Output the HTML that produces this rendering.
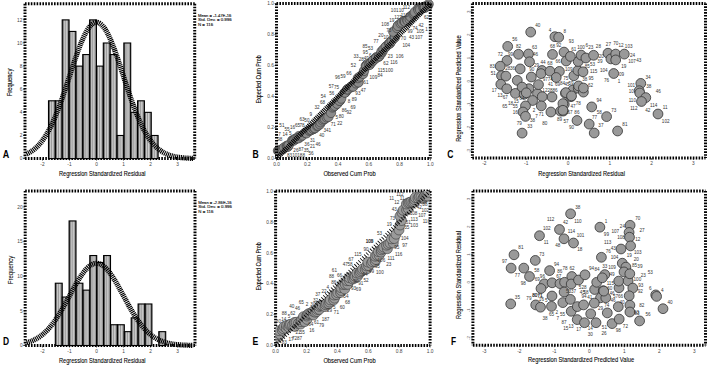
<!DOCTYPE html><html><head><meta charset="utf-8"><style>
html,body{margin:0;padding:0;background:#fff;overflow:hidden;width:708px;height:365px;}
svg{display:block;font-family:"Liberation Sans",sans-serif;}
</style></head><body>
<svg width="708" height="365" viewBox="0 0 708 365">
<defs>
<linearGradient id="barg" x1="0" x2="1" y1="0" y2="0">
<stop offset="0" stop-color="#333"/><stop offset="0.14" stop-color="#666"/>
<stop offset="0.3" stop-color="#ccc"/><stop offset="0.45" stop-color="#999"/>
<stop offset="0.6" stop-color="#d0d0d0"/><stop offset="0.74" stop-color="#aaa"/><stop offset="0.88" stop-color="#888"/><stop offset="1" stop-color="#444"/>
</linearGradient>
</defs>
<path d="M25,3.8H194.7M25,158.6H194.7M25,3.8V158.6M194.7,3.8V158.6" stroke="#000" stroke-width="3" stroke-dasharray="1.6 1.3" fill="none"/>
<rect x="48.50" y="100.80" width="6.85" height="57.80" fill="url(#barg)" stroke="#000" stroke-width="1.1"/>
<rect x="55.35" y="100.80" width="6.85" height="57.80" fill="url(#barg)" stroke="#000" stroke-width="1.1"/>
<rect x="62.20" y="19.88" width="6.85" height="138.72" fill="url(#barg)" stroke="#000" stroke-width="1.1"/>
<rect x="69.05" y="31.44" width="6.85" height="127.16" fill="url(#barg)" stroke="#000" stroke-width="1.1"/>
<rect x="75.90" y="66.12" width="6.85" height="92.48" fill="url(#barg)" stroke="#000" stroke-width="1.1"/>
<rect x="82.75" y="54.56" width="6.85" height="104.04" fill="url(#barg)" stroke="#000" stroke-width="1.1"/>
<rect x="89.60" y="19.88" width="6.85" height="138.72" fill="url(#barg)" stroke="#000" stroke-width="1.1"/>
<rect x="96.45" y="66.12" width="6.85" height="92.48" fill="url(#barg)" stroke="#000" stroke-width="1.1"/>
<rect x="103.30" y="43.00" width="6.85" height="115.60" fill="url(#barg)" stroke="#000" stroke-width="1.1"/>
<rect x="110.15" y="54.56" width="6.85" height="104.04" fill="url(#barg)" stroke="#000" stroke-width="1.1"/>
<rect x="117.00" y="135.48" width="6.85" height="23.12" fill="url(#barg)" stroke="#000" stroke-width="1.1"/>
<rect x="123.85" y="43.00" width="6.85" height="115.60" fill="url(#barg)" stroke="#000" stroke-width="1.1"/>
<rect x="130.70" y="112.36" width="6.85" height="46.24" fill="url(#barg)" stroke="#000" stroke-width="1.1"/>
<rect x="137.55" y="100.80" width="6.85" height="57.80" fill="url(#barg)" stroke="#000" stroke-width="1.1"/>
<rect x="144.40" y="112.36" width="6.85" height="46.24" fill="url(#barg)" stroke="#000" stroke-width="1.1"/>
<rect x="151.25" y="135.48" width="6.85" height="23.12" fill="url(#barg)" stroke="#000" stroke-width="1.1"/>
<polyline points="26.50,154.00 27.00,153.77 27.50,153.53 28.00,153.29 28.50,153.03 29.00,152.76 29.50,152.48 30.00,152.19 30.50,151.89 31.00,151.58 31.50,151.26 32.00,150.92 32.50,150.57 33.00,150.21 33.50,149.84 34.00,149.45 34.50,149.05 35.00,148.63 35.50,148.20 36.00,147.75 36.50,147.29 37.00,146.81 37.50,146.32 38.00,145.81 38.50,145.29 39.00,144.74 39.50,144.18 40.00,143.61 40.50,143.01 41.00,142.40 41.50,141.77 42.00,141.12 42.50,140.45 43.00,139.77 43.50,139.06 44.00,138.33 44.50,137.59 45.00,136.82 45.50,136.04 46.00,135.23 46.50,134.41 47.00,133.56 47.50,132.69 48.00,131.80 48.50,130.89 49.00,129.96 49.50,129.01 50.00,128.04 50.50,127.05 51.00,126.03 51.50,125.00 52.00,123.94 52.50,122.87 53.00,121.77 53.50,120.65 54.00,119.51 54.50,118.35 55.00,117.18 55.50,115.98 56.00,114.76 56.50,113.52 57.00,112.27 57.50,110.99 58.00,109.70 58.50,108.39 59.00,107.06 59.50,105.72 60.00,104.35 60.50,102.98 61.00,101.59 61.50,100.18 62.00,98.76 62.50,97.32 63.00,95.88 63.50,94.42 64.00,92.95 64.50,91.47 65.00,89.98 65.50,88.48 66.00,86.97 66.50,85.46 67.00,83.94 67.50,82.42 68.00,80.89 68.50,79.35 69.00,77.82 69.50,76.28 70.00,74.74 70.50,73.21 71.00,71.68 71.50,70.14 72.00,68.62 72.50,67.10 73.00,65.58 73.50,64.07 74.00,62.58 74.50,61.09 75.00,59.61 75.50,58.14 76.00,56.69 76.50,55.26 77.00,53.83 77.50,52.43 78.00,51.05 78.50,49.68 79.00,48.34 79.50,47.01 80.00,45.71 80.50,44.44 81.00,43.19 81.50,41.96 82.00,40.77 82.50,39.60 83.00,38.46 83.50,37.36 84.00,36.29 84.50,35.25 85.00,34.24 85.50,33.27 86.00,32.33 86.50,31.44 87.00,30.58 87.50,29.75 88.00,28.97 88.50,28.23 89.00,27.53 89.50,26.87 90.00,26.26 90.50,25.68 91.00,25.15 91.50,24.67 92.00,24.23 92.50,23.83 93.00,23.48 93.50,23.18 94.00,22.92 94.50,22.71 95.00,22.54 95.50,22.43 96.00,22.36 96.50,22.33 97.00,22.36 97.50,22.43 98.00,22.54 98.50,22.71 99.00,22.92 99.50,23.18 100.00,23.48 100.50,23.83 101.00,24.23 101.50,24.67 102.00,25.15 102.50,25.68 103.00,26.26 103.50,26.87 104.00,27.53 104.50,28.23 105.00,28.97 105.50,29.75 106.00,30.58 106.50,31.44 107.00,32.33 107.50,33.27 108.00,34.24 108.50,35.25 109.00,36.29 109.50,37.36 110.00,38.46 110.50,39.60 111.00,40.77 111.50,41.96 112.00,43.19 112.50,44.44 113.00,45.71 113.50,47.01 114.00,48.34 114.50,49.68 115.00,51.05 115.50,52.43 116.00,53.83 116.50,55.26 117.00,56.69 117.50,58.14 118.00,59.61 118.50,61.09 119.00,62.58 119.50,64.07 120.00,65.58 120.50,67.10 121.00,68.62 121.50,70.14 122.00,71.68 122.50,73.21 123.00,74.74 123.50,76.28 124.00,77.82 124.50,79.35 125.00,80.89 125.50,82.42 126.00,83.94 126.50,85.46 127.00,86.97 127.50,88.48 128.00,89.98 128.50,91.47 129.00,92.95 129.50,94.42 130.00,95.88 130.50,97.32 131.00,98.76 131.50,100.18 132.00,101.59 132.50,102.98 133.00,104.35 133.50,105.72 134.00,107.06 134.50,108.39 135.00,109.70 135.50,110.99 136.00,112.27 136.50,113.52 137.00,114.76 137.50,115.98 138.00,117.18 138.50,118.35 139.00,119.51 139.50,120.65 140.00,121.77 140.50,122.87 141.00,123.94 141.50,125.00 142.00,126.03 142.50,127.05 143.00,128.04 143.50,129.01 144.00,129.96 144.50,130.89 145.00,131.80 145.50,132.69 146.00,133.56 146.50,134.41 147.00,135.23 147.50,136.04 148.00,136.82 148.50,137.59 149.00,138.33 149.50,139.06 150.00,139.77 150.50,140.45 151.00,141.12 151.50,141.77 152.00,142.40 152.50,143.01 153.00,143.61 153.50,144.18 154.00,144.74 154.50,145.29 155.00,145.81 155.50,146.32 156.00,146.81 156.50,147.29 157.00,147.75 157.50,148.20 158.00,148.63 158.50,149.05 159.00,149.45 159.50,149.84 160.00,150.21 160.50,150.57 161.00,150.92 161.50,151.26 162.00,151.58 162.50,151.89 163.00,152.19 163.50,152.48 164.00,152.76 164.50,153.03 165.00,153.29 165.50,153.53 166.00,153.77 166.50,154.00 167.00,154.21 167.50,154.42 168.00,154.62 168.50,154.82 169.00,155.00 169.50,155.18 170.00,155.35 170.50,155.51 171.00,155.66 171.50,155.81 172.00,155.95 172.50,156.09 173.00,156.22 173.50,156.34 174.00,156.46 174.50,156.57 175.00,156.68 175.50,156.78 176.00,156.88 176.50,156.97 177.00,157.06 177.50,157.14 178.00,157.22 178.50,157.30 179.00,157.37 179.50,157.44 180.00,157.50 180.50,157.56 181.00,157.62 181.50,157.68 182.00,157.73 182.50,157.78 183.00,157.83 183.50,157.87 184.00,157.92 184.50,157.96 185.00,157.99 185.50,158.03 186.00,158.06 186.50,158.10 187.00,158.13 187.50,158.16 188.00,158.18 188.50,158.21 189.00,158.23 189.50,158.26 190.00,158.28 190.50,158.30 191.00,158.32 191.50,158.33 192.00,158.35 192.50,158.37 193.00,158.38" fill="none" stroke="#000" stroke-width="5.2" stroke-dasharray="1.15 0.75"/>
<path d="M42.5,158.6v2" stroke="#000" stroke-width="0.6"/>
<text x="42.5" y="165.9" font-size="4.8" text-anchor="middle" fill="#444" >-2</text>
<path d="M69.5,158.6v2" stroke="#000" stroke-width="0.6"/>
<text x="69.5" y="165.9" font-size="4.8" text-anchor="middle" fill="#444" >-1</text>
<path d="M96.5,158.6v2" stroke="#000" stroke-width="0.6"/>
<text x="96.5" y="165.9" font-size="4.8" text-anchor="middle" fill="#444" >0</text>
<path d="M123.5,158.6v2" stroke="#000" stroke-width="0.6"/>
<text x="123.5" y="165.9" font-size="4.8" text-anchor="middle" fill="#444" >1</text>
<path d="M150.5,158.6v2" stroke="#000" stroke-width="0.6"/>
<text x="150.5" y="165.9" font-size="4.8" text-anchor="middle" fill="#444" >2</text>
<path d="M177.5,158.6v2" stroke="#000" stroke-width="0.6"/>
<text x="177.5" y="165.9" font-size="4.8" text-anchor="middle" fill="#444" >3</text>
<path d="M25,158.6h-2" stroke="#000" stroke-width="0.6"/>
<text x="22.4" y="160.2" font-size="4.8" text-anchor="end" fill="#444" >0</text>
<path d="M25,135.5h-2" stroke="#000" stroke-width="0.6"/>
<text x="22.4" y="137.1" font-size="4.8" text-anchor="end" fill="#444" >2</text>
<path d="M25,112.4h-2" stroke="#000" stroke-width="0.6"/>
<text x="22.4" y="114.0" font-size="4.8" text-anchor="end" fill="#444" >4</text>
<path d="M25,89.2h-2" stroke="#000" stroke-width="0.6"/>
<text x="22.4" y="90.8" font-size="4.8" text-anchor="end" fill="#444" >6</text>
<path d="M25,66.1h-2" stroke="#000" stroke-width="0.6"/>
<text x="22.4" y="67.7" font-size="4.8" text-anchor="end" fill="#444" >8</text>
<path d="M25,43.0h-2" stroke="#000" stroke-width="0.6"/>
<text x="22.4" y="44.6" font-size="4.8" text-anchor="end" fill="#444" >10</text>
<path d="M25,19.9h-2" stroke="#000" stroke-width="0.6"/>
<text x="22.4" y="21.5" font-size="4.8" text-anchor="end" fill="#444" >12</text>
<text x="198.0" y="16.70" font-size="4.3" fill="#111" stroke="#111" stroke-width="0.12" textLength="33.4" lengthAdjust="spacingAndGlyphs">Mean = -1.47E-16</text>
<text x="198.0" y="21.25" font-size="4.3" fill="#111" stroke="#111" stroke-width="0.12" textLength="33.7" lengthAdjust="spacingAndGlyphs">Std. Dev. = 0.996</text>
<text x="198.0" y="25.80" font-size="4.3" fill="#111" stroke="#111" stroke-width="0.12" textLength="15.1" lengthAdjust="spacingAndGlyphs">N = 116</text>
<text x="59.0" y="176" font-size="6.3" textLength="86.6" lengthAdjust="spacingAndGlyphs" fill="#000" stroke="#000" stroke-width="0.08">Regression Standardized Residual</text>
<text transform="translate(12.3,82.4) rotate(-90)" x="-13.8" y="0" font-size="6.3" textLength="27.5" lengthAdjust="spacingAndGlyphs" fill="#000" stroke="#000" stroke-width="0.08">Frequency</text>
<text x="2.7" y="158.2" font-size="10.6" font-weight="bold" fill="#000" textLength="6.5" lengthAdjust="spacingAndGlyphs">A</text>
<path d="M25.2,191H195M25.2,345.5H195M25.2,191V345.5M195,191V345.5" stroke="#000" stroke-width="3" stroke-dasharray="1.6 1.3" fill="none"/>
<rect x="55.30" y="283.22" width="6.90" height="62.28" fill="url(#barg)" stroke="#000" stroke-width="1.1"/>
<rect x="62.20" y="297.06" width="6.90" height="48.44" fill="url(#barg)" stroke="#000" stroke-width="1.1"/>
<rect x="69.10" y="220.94" width="6.90" height="124.56" fill="url(#barg)" stroke="#000" stroke-width="1.1"/>
<rect x="76.00" y="283.22" width="6.90" height="62.28" fill="url(#barg)" stroke="#000" stroke-width="1.1"/>
<rect x="82.90" y="290.14" width="6.90" height="55.36" fill="url(#barg)" stroke="#000" stroke-width="1.1"/>
<rect x="89.80" y="255.54" width="6.90" height="89.96" fill="url(#barg)" stroke="#000" stroke-width="1.1"/>
<rect x="96.70" y="262.46" width="6.90" height="83.04" fill="url(#barg)" stroke="#000" stroke-width="1.1"/>
<rect x="103.60" y="255.54" width="6.90" height="89.96" fill="url(#barg)" stroke="#000" stroke-width="1.1"/>
<rect x="110.50" y="324.74" width="6.90" height="20.76" fill="url(#barg)" stroke="#000" stroke-width="1.1"/>
<rect x="117.40" y="324.74" width="6.90" height="20.76" fill="url(#barg)" stroke="#000" stroke-width="1.1"/>
<rect x="124.30" y="331.66" width="6.90" height="13.84" fill="url(#barg)" stroke="#000" stroke-width="1.1"/>
<rect x="131.20" y="317.82" width="6.90" height="27.68" fill="url(#barg)" stroke="#000" stroke-width="1.1"/>
<rect x="138.10" y="303.98" width="6.90" height="41.52" fill="url(#barg)" stroke="#000" stroke-width="1.1"/>
<rect x="145.00" y="303.98" width="6.90" height="41.52" fill="url(#barg)" stroke="#000" stroke-width="1.1"/>
<rect x="158.80" y="331.66" width="6.90" height="13.84" fill="url(#barg)" stroke="#000" stroke-width="1.1"/>
<polyline points="26.70,342.67 27.20,342.53 27.70,342.39 28.20,342.23 28.70,342.08 29.20,341.91 29.70,341.74 30.20,341.57 30.70,341.38 31.20,341.19 31.70,340.99 32.20,340.79 32.70,340.57 33.20,340.35 33.70,340.12 34.20,339.89 34.70,339.64 35.20,339.39 35.70,339.12 36.20,338.85 36.70,338.57 37.20,338.28 37.70,337.97 38.20,337.66 38.70,337.34 39.20,337.01 39.70,336.67 40.20,336.32 40.70,335.96 41.20,335.58 41.70,335.20 42.20,334.80 42.70,334.39 43.20,333.97 43.70,333.54 44.20,333.10 44.70,332.65 45.20,332.18 45.70,331.70 46.20,331.21 46.70,330.71 47.20,330.19 47.70,329.66 48.20,329.12 48.70,328.57 49.20,328.00 49.70,327.43 50.20,326.84 50.70,326.23 51.20,325.62 51.70,324.99 52.20,324.34 52.70,323.69 53.20,323.02 53.70,322.34 54.20,321.65 54.70,320.95 55.20,320.23 55.70,319.51 56.20,318.77 56.70,318.02 57.20,317.26 57.70,316.48 58.20,315.70 58.70,314.90 59.20,314.10 59.70,313.28 60.20,312.46 60.70,311.63 61.20,310.78 61.70,309.93 62.20,309.07 62.70,308.20 63.20,307.33 63.70,306.45 64.20,305.56 64.70,304.66 65.20,303.76 65.70,302.86 66.20,301.95 66.70,301.03 67.20,300.11 67.70,299.19 68.20,298.27 68.70,297.34 69.20,296.42 69.70,295.49 70.20,294.57 70.70,293.64 71.20,292.72 71.70,291.79 72.20,290.87 72.70,289.96 73.20,289.05 73.70,288.14 74.20,287.24 74.70,286.34 75.20,285.46 75.70,284.58 76.20,283.70 76.70,282.84 77.20,281.99 77.70,281.15 78.20,280.32 78.70,279.50 79.20,278.69 79.70,277.90 80.20,277.12 80.70,276.36 81.20,275.61 81.70,274.88 82.20,274.17 82.70,273.47 83.20,272.79 83.70,272.13 84.20,271.49 84.70,270.87 85.20,270.28 85.70,269.70 86.20,269.14 86.70,268.61 87.20,268.10 87.70,267.62 88.20,267.15 88.70,266.72 89.20,266.30 89.70,265.92 90.20,265.56 90.70,265.22 91.20,264.91 91.70,264.63 92.20,264.38 92.70,264.15 93.20,263.95 93.70,263.78 94.20,263.63 94.70,263.52 95.20,263.43 95.70,263.37 96.20,263.34 96.70,263.33 97.20,263.36 97.70,263.41 98.20,263.50 98.70,263.61 99.20,263.75 99.70,263.91 100.20,264.11 100.70,264.33 101.20,264.58 101.70,264.85 102.20,265.16 102.70,265.49 103.20,265.84 103.70,266.23 104.20,266.63 104.70,267.06 105.20,267.52 105.70,268.00 106.20,268.51 106.70,269.04 107.20,269.59 107.70,270.16 108.20,270.75 108.70,271.37 109.20,272.00 109.70,272.66 110.20,273.33 110.70,274.02 111.20,274.74 111.70,275.46 112.20,276.21 112.70,276.97 113.20,277.74 113.70,278.53 114.20,279.33 114.70,280.15 115.20,280.98 115.70,281.82 116.20,282.67 116.70,283.53 117.20,284.40 117.70,285.28 118.20,286.17 118.70,287.06 119.20,287.96 119.70,288.87 120.20,289.78 120.70,290.69 121.20,291.61 121.70,292.53 122.20,293.46 122.70,294.38 123.20,295.31 123.70,296.23 124.20,297.16 124.70,298.09 125.20,299.01 125.70,299.93 126.20,300.85 126.70,301.76 127.20,302.67 127.70,303.58 128.20,304.48 128.70,305.38 129.20,306.27 129.70,307.15 130.20,308.03 130.70,308.90 131.20,309.76 131.70,310.61 132.20,311.46 132.70,312.29 133.20,313.12 133.70,313.94 134.20,314.74 134.70,315.54 135.20,316.33 135.70,317.10 136.20,317.87 136.70,318.62 137.20,319.36 137.70,320.09 138.20,320.81 138.70,321.51 139.20,322.21 139.70,322.89 140.20,323.56 140.70,324.21 141.20,324.86 141.70,325.49 142.20,326.11 142.70,326.72 143.20,327.31 143.70,327.89 144.20,328.46 144.70,329.01 145.20,329.56 145.70,330.09 146.20,330.61 146.70,331.11 147.20,331.60 147.70,332.09 148.20,332.55 148.70,333.01 149.20,333.46 149.70,333.89 150.20,334.31 150.70,334.72 151.20,335.12 151.70,335.51 152.20,335.88 152.70,336.25 153.20,336.60 153.70,336.94 154.20,337.28 154.70,337.60 155.20,337.91 155.70,338.22 156.20,338.51 156.70,338.79 157.20,339.07 157.70,339.33 158.20,339.59 158.70,339.84 159.20,340.08 159.70,340.31 160.20,340.53 160.70,340.75 161.20,340.95 161.70,341.15 162.20,341.34 162.70,341.53 163.20,341.71 163.70,341.88 164.20,342.04 164.70,342.20 165.20,342.36 165.70,342.50 166.20,342.64 166.70,342.78 167.20,342.91 167.70,343.03 168.20,343.15 168.70,343.26 169.20,343.37 169.70,343.48 170.20,343.58 170.70,343.67 171.20,343.77 171.70,343.85 172.20,343.94 172.70,344.02 173.20,344.09 173.70,344.17 174.20,344.24 174.70,344.30 175.20,344.37 175.70,344.43 176.20,344.48 176.70,344.54 177.20,344.59 177.70,344.64 178.20,344.69 178.70,344.73 179.20,344.77 179.70,344.81 180.20,344.85 180.70,344.89 181.20,344.92 181.70,344.96 182.20,344.99 182.70,345.02 183.20,345.05 183.70,345.07 184.20,345.10 184.70,345.12 185.20,345.14 185.70,345.16 186.20,345.18 186.70,345.20 187.20,345.22 187.70,345.24 188.20,345.25 188.70,345.27 189.20,345.28 189.70,345.30 190.20,345.31 190.70,345.32 191.20,345.33 191.70,345.34 192.20,345.35 192.70,345.36 193.20,345.37" fill="none" stroke="#000" stroke-width="5.2" stroke-dasharray="1.15 0.75"/>
<path d="M42.5,345.5v2" stroke="#000" stroke-width="0.6"/>
<text x="42.5" y="352.8" font-size="4.8" text-anchor="middle" fill="#444" >-2</text>
<path d="M69.5,345.5v2" stroke="#000" stroke-width="0.6"/>
<text x="69.5" y="352.8" font-size="4.8" text-anchor="middle" fill="#444" >-1</text>
<path d="M96.5,345.5v2" stroke="#000" stroke-width="0.6"/>
<text x="96.5" y="352.8" font-size="4.8" text-anchor="middle" fill="#444" >0</text>
<path d="M123.5,345.5v2" stroke="#000" stroke-width="0.6"/>
<text x="123.5" y="352.8" font-size="4.8" text-anchor="middle" fill="#444" >1</text>
<path d="M150.5,345.5v2" stroke="#000" stroke-width="0.6"/>
<text x="150.5" y="352.8" font-size="4.8" text-anchor="middle" fill="#444" >2</text>
<path d="M177.5,345.5v2" stroke="#000" stroke-width="0.6"/>
<text x="177.5" y="352.8" font-size="4.8" text-anchor="middle" fill="#444" >3</text>
<path d="M25.2,345.5h-2" stroke="#000" stroke-width="0.6"/>
<text x="22.6" y="347.1" font-size="4.8" text-anchor="end" fill="#444" >0</text>
<path d="M25.2,310.9h-2" stroke="#000" stroke-width="0.6"/>
<text x="22.6" y="312.5" font-size="4.8" text-anchor="end" fill="#444" >5</text>
<path d="M25.2,276.3h-2" stroke="#000" stroke-width="0.6"/>
<text x="22.6" y="277.9" font-size="4.8" text-anchor="end" fill="#444" >10</text>
<path d="M25.2,241.7h-2" stroke="#000" stroke-width="0.6"/>
<text x="22.6" y="243.3" font-size="4.8" text-anchor="end" fill="#444" >15</text>
<path d="M25.2,207.1h-2" stroke="#000" stroke-width="0.6"/>
<text x="22.6" y="208.7" font-size="4.8" text-anchor="end" fill="#444" >20</text>
<text x="198.3" y="203.90" font-size="4.3" fill="#111" stroke="#111" stroke-width="0.12" textLength="33.4" lengthAdjust="spacingAndGlyphs">Mean = -2.86E-16</text>
<text x="198.3" y="208.45" font-size="4.3" fill="#111" stroke="#111" stroke-width="0.12" textLength="33.7" lengthAdjust="spacingAndGlyphs">Std. Dev. = 0.996</text>
<text x="198.3" y="213.00" font-size="4.3" fill="#111" stroke="#111" stroke-width="0.12" textLength="15.1" lengthAdjust="spacingAndGlyphs">N = 116</text>
<text x="59.0" y="363" font-size="6.3" textLength="86.6" lengthAdjust="spacingAndGlyphs" fill="#000" stroke="#000" stroke-width="0.08">Regression Standardized Residual</text>
<text transform="translate(12.8,270) rotate(-90)" x="-14.2" y="0" font-size="6.3" textLength="28.5" lengthAdjust="spacingAndGlyphs" fill="#000" stroke="#000" stroke-width="0.08">Frequency</text>
<text x="3.0" y="345.2" font-size="10.6" font-weight="bold" fill="#000" textLength="6.1" lengthAdjust="spacingAndGlyphs">D</text>
<circle cx="278.0" cy="150.7" r="4.7" fill="#8a8a8a" stroke="#444" stroke-width="0.7"/>
<circle cx="278.9" cy="150.5" r="4.7" fill="#8a8a8a" stroke="#444" stroke-width="0.7"/>
<circle cx="279.1" cy="151.0" r="4.7" fill="#8a8a8a" stroke="#444" stroke-width="0.7"/>
<circle cx="281.9" cy="149.3" r="4.7" fill="#8a8a8a" stroke="#444" stroke-width="0.7"/>
<circle cx="283.0" cy="149.2" r="4.7" fill="#8a8a8a" stroke="#444" stroke-width="0.7"/>
<circle cx="284.1" cy="147.5" r="4.7" fill="#8a8a8a" stroke="#444" stroke-width="0.7"/>
<circle cx="286.7" cy="145.8" r="4.7" fill="#8a8a8a" stroke="#444" stroke-width="0.7"/>
<circle cx="287.0" cy="146.7" r="4.7" fill="#8a8a8a" stroke="#444" stroke-width="0.7"/>
<circle cx="287.9" cy="146.7" r="4.7" fill="#8a8a8a" stroke="#444" stroke-width="0.7"/>
<circle cx="288.7" cy="145.2" r="4.7" fill="#8a8a8a" stroke="#444" stroke-width="0.7"/>
<circle cx="292.2" cy="140.5" r="4.7" fill="#8a8a8a" stroke="#444" stroke-width="0.7"/>
<circle cx="292.9" cy="140.5" r="4.7" fill="#8a8a8a" stroke="#444" stroke-width="0.7"/>
<circle cx="294.8" cy="139.1" r="4.7" fill="#8a8a8a" stroke="#444" stroke-width="0.7"/>
<circle cx="293.9" cy="140.5" r="4.7" fill="#8a8a8a" stroke="#444" stroke-width="0.7"/>
<circle cx="295.6" cy="138.9" r="4.7" fill="#8a8a8a" stroke="#444" stroke-width="0.7"/>
<circle cx="298.9" cy="136.1" r="4.7" fill="#8a8a8a" stroke="#444" stroke-width="0.7"/>
<circle cx="297.4" cy="138.3" r="4.7" fill="#8a8a8a" stroke="#444" stroke-width="0.7"/>
<circle cx="298.7" cy="138.2" r="4.7" fill="#8a8a8a" stroke="#444" stroke-width="0.7"/>
<circle cx="301.0" cy="136.5" r="4.7" fill="#8a8a8a" stroke="#444" stroke-width="0.7"/>
<circle cx="302.4" cy="135.5" r="4.7" fill="#8a8a8a" stroke="#444" stroke-width="0.7"/>
<circle cx="305.2" cy="132.8" r="4.7" fill="#8a8a8a" stroke="#444" stroke-width="0.7"/>
<circle cx="306.9" cy="132.4" r="4.7" fill="#8a8a8a" stroke="#444" stroke-width="0.7"/>
<circle cx="306.6" cy="133.3" r="4.7" fill="#8a8a8a" stroke="#444" stroke-width="0.7"/>
<circle cx="309.4" cy="130.8" r="4.7" fill="#8a8a8a" stroke="#444" stroke-width="0.7"/>
<circle cx="310.3" cy="130.2" r="4.7" fill="#8a8a8a" stroke="#444" stroke-width="0.7"/>
<circle cx="311.5" cy="130.0" r="4.7" fill="#8a8a8a" stroke="#444" stroke-width="0.7"/>
<circle cx="313.4" cy="128.8" r="4.7" fill="#8a8a8a" stroke="#444" stroke-width="0.7"/>
<circle cx="313.4" cy="128.9" r="4.7" fill="#8a8a8a" stroke="#444" stroke-width="0.7"/>
<circle cx="314.8" cy="128.2" r="4.7" fill="#8a8a8a" stroke="#444" stroke-width="0.7"/>
<circle cx="314.9" cy="128.1" r="4.7" fill="#8a8a8a" stroke="#444" stroke-width="0.7"/>
<circle cx="317.2" cy="126.2" r="4.7" fill="#8a8a8a" stroke="#444" stroke-width="0.7"/>
<circle cx="318.1" cy="125.7" r="4.7" fill="#8a8a8a" stroke="#444" stroke-width="0.7"/>
<circle cx="319.9" cy="124.3" r="4.7" fill="#8a8a8a" stroke="#444" stroke-width="0.7"/>
<circle cx="320.7" cy="122.3" r="4.7" fill="#8a8a8a" stroke="#444" stroke-width="0.7"/>
<circle cx="322.6" cy="120.5" r="4.7" fill="#8a8a8a" stroke="#444" stroke-width="0.7"/>
<circle cx="324.5" cy="118.5" r="4.7" fill="#8a8a8a" stroke="#444" stroke-width="0.7"/>
<circle cx="323.6" cy="119.2" r="4.7" fill="#8a8a8a" stroke="#444" stroke-width="0.7"/>
<circle cx="324.9" cy="118.9" r="4.7" fill="#8a8a8a" stroke="#444" stroke-width="0.7"/>
<circle cx="326.7" cy="117.5" r="4.7" fill="#8a8a8a" stroke="#444" stroke-width="0.7"/>
<circle cx="328.4" cy="116.9" r="4.7" fill="#8a8a8a" stroke="#444" stroke-width="0.7"/>
<circle cx="331.0" cy="112.9" r="4.7" fill="#8a8a8a" stroke="#444" stroke-width="0.7"/>
<circle cx="332.5" cy="107.5" r="4.7" fill="#8a8a8a" stroke="#444" stroke-width="0.7"/>
<circle cx="333.7" cy="106.6" r="4.7" fill="#8a8a8a" stroke="#444" stroke-width="0.7"/>
<circle cx="335.7" cy="104.8" r="4.7" fill="#8a8a8a" stroke="#444" stroke-width="0.7"/>
<circle cx="334.8" cy="105.8" r="4.7" fill="#8a8a8a" stroke="#444" stroke-width="0.7"/>
<circle cx="337.3" cy="103.1" r="4.7" fill="#8a8a8a" stroke="#444" stroke-width="0.7"/>
<circle cx="337.2" cy="103.8" r="4.7" fill="#8a8a8a" stroke="#444" stroke-width="0.7"/>
<circle cx="339.9" cy="100.7" r="4.7" fill="#8a8a8a" stroke="#444" stroke-width="0.7"/>
<circle cx="339.5" cy="100.8" r="4.7" fill="#8a8a8a" stroke="#444" stroke-width="0.7"/>
<circle cx="341.2" cy="98.6" r="4.7" fill="#8a8a8a" stroke="#444" stroke-width="0.7"/>
<circle cx="345.1" cy="92.4" r="4.7" fill="#8a8a8a" stroke="#444" stroke-width="0.7"/>
<circle cx="345.7" cy="92.0" r="4.7" fill="#8a8a8a" stroke="#444" stroke-width="0.7"/>
<circle cx="344.9" cy="92.6" r="4.7" fill="#8a8a8a" stroke="#444" stroke-width="0.7"/>
<circle cx="347.6" cy="89.5" r="4.7" fill="#8a8a8a" stroke="#444" stroke-width="0.7"/>
<circle cx="347.3" cy="89.3" r="4.7" fill="#8a8a8a" stroke="#444" stroke-width="0.7"/>
<circle cx="350.4" cy="87.5" r="4.7" fill="#8a8a8a" stroke="#444" stroke-width="0.7"/>
<circle cx="352.7" cy="85.9" r="4.7" fill="#8a8a8a" stroke="#444" stroke-width="0.7"/>
<circle cx="352.3" cy="86.6" r="4.7" fill="#8a8a8a" stroke="#444" stroke-width="0.7"/>
<circle cx="353.2" cy="86.6" r="4.7" fill="#8a8a8a" stroke="#444" stroke-width="0.7"/>
<circle cx="356.1" cy="83.4" r="4.7" fill="#8a8a8a" stroke="#444" stroke-width="0.7"/>
<circle cx="358.0" cy="82.2" r="4.7" fill="#8a8a8a" stroke="#444" stroke-width="0.7"/>
<circle cx="358.5" cy="82.4" r="4.7" fill="#8a8a8a" stroke="#444" stroke-width="0.7"/>
<circle cx="357.9" cy="78.1" r="4.7" fill="#8a8a8a" stroke="#444" stroke-width="0.7"/>
<circle cx="359.8" cy="76.6" r="4.7" fill="#8a8a8a" stroke="#444" stroke-width="0.7"/>
<circle cx="363.1" cy="73.9" r="4.7" fill="#8a8a8a" stroke="#444" stroke-width="0.7"/>
<circle cx="364.0" cy="70.9" r="4.7" fill="#8a8a8a" stroke="#444" stroke-width="0.7"/>
<circle cx="365.8" cy="65.8" r="4.7" fill="#8a8a8a" stroke="#444" stroke-width="0.7"/>
<circle cx="367.2" cy="64.3" r="4.7" fill="#8a8a8a" stroke="#444" stroke-width="0.7"/>
<circle cx="366.3" cy="66.2" r="4.7" fill="#8a8a8a" stroke="#444" stroke-width="0.7"/>
<circle cx="369.5" cy="64.3" r="4.7" fill="#8a8a8a" stroke="#444" stroke-width="0.7"/>
<circle cx="369.6" cy="64.9" r="4.7" fill="#8a8a8a" stroke="#444" stroke-width="0.7"/>
<circle cx="371.3" cy="62.7" r="4.7" fill="#8a8a8a" stroke="#444" stroke-width="0.7"/>
<circle cx="373.4" cy="60.2" r="4.7" fill="#8a8a8a" stroke="#444" stroke-width="0.7"/>
<circle cx="373.1" cy="60.5" r="4.7" fill="#8a8a8a" stroke="#444" stroke-width="0.7"/>
<circle cx="376.2" cy="57.3" r="4.7" fill="#8a8a8a" stroke="#444" stroke-width="0.7"/>
<circle cx="376.0" cy="58.3" r="4.7" fill="#8a8a8a" stroke="#444" stroke-width="0.7"/>
<circle cx="378.9" cy="56.7" r="4.7" fill="#8a8a8a" stroke="#444" stroke-width="0.7"/>
<circle cx="379.3" cy="55.9" r="4.7" fill="#8a8a8a" stroke="#444" stroke-width="0.7"/>
<circle cx="381.2" cy="53.6" r="4.7" fill="#8a8a8a" stroke="#444" stroke-width="0.7"/>
<circle cx="382.4" cy="51.6" r="4.7" fill="#8a8a8a" stroke="#444" stroke-width="0.7"/>
<circle cx="381.5" cy="51.5" r="4.7" fill="#8a8a8a" stroke="#444" stroke-width="0.7"/>
<circle cx="383.4" cy="49.4" r="4.7" fill="#8a8a8a" stroke="#444" stroke-width="0.7"/>
<circle cx="386.2" cy="46.3" r="4.7" fill="#8a8a8a" stroke="#444" stroke-width="0.7"/>
<circle cx="385.7" cy="46.9" r="4.7" fill="#8a8a8a" stroke="#444" stroke-width="0.7"/>
<circle cx="389.1" cy="43.6" r="4.7" fill="#8a8a8a" stroke="#444" stroke-width="0.7"/>
<circle cx="389.9" cy="43.5" r="4.7" fill="#8a8a8a" stroke="#444" stroke-width="0.7"/>
<circle cx="389.8" cy="43.2" r="4.7" fill="#8a8a8a" stroke="#444" stroke-width="0.7"/>
<circle cx="391.7" cy="40.9" r="4.7" fill="#8a8a8a" stroke="#444" stroke-width="0.7"/>
<circle cx="394.7" cy="37.7" r="4.7" fill="#8a8a8a" stroke="#444" stroke-width="0.7"/>
<circle cx="393.3" cy="31.7" r="4.7" fill="#8a8a8a" stroke="#444" stroke-width="0.7"/>
<circle cx="397.0" cy="28.0" r="4.7" fill="#8a8a8a" stroke="#444" stroke-width="0.7"/>
<circle cx="398.2" cy="25.5" r="4.7" fill="#8a8a8a" stroke="#444" stroke-width="0.7"/>
<circle cx="397.9" cy="25.9" r="4.7" fill="#8a8a8a" stroke="#444" stroke-width="0.7"/>
<circle cx="400.6" cy="23.4" r="4.7" fill="#8a8a8a" stroke="#444" stroke-width="0.7"/>
<circle cx="402.0" cy="22.5" r="4.7" fill="#8a8a8a" stroke="#444" stroke-width="0.7"/>
<circle cx="404.0" cy="21.0" r="4.7" fill="#8a8a8a" stroke="#444" stroke-width="0.7"/>
<circle cx="405.3" cy="21.0" r="4.7" fill="#8a8a8a" stroke="#444" stroke-width="0.7"/>
<circle cx="405.1" cy="21.8" r="4.7" fill="#8a8a8a" stroke="#444" stroke-width="0.7"/>
<circle cx="407.4" cy="20.1" r="4.7" fill="#8a8a8a" stroke="#444" stroke-width="0.7"/>
<circle cx="407.6" cy="20.6" r="4.7" fill="#8a8a8a" stroke="#444" stroke-width="0.7"/>
<circle cx="409.7" cy="19.3" r="4.7" fill="#8a8a8a" stroke="#444" stroke-width="0.7"/>
<circle cx="410.7" cy="16.3" r="4.7" fill="#8a8a8a" stroke="#444" stroke-width="0.7"/>
<circle cx="410.5" cy="16.8" r="4.7" fill="#8a8a8a" stroke="#444" stroke-width="0.7"/>
<circle cx="413.3" cy="14.4" r="4.7" fill="#8a8a8a" stroke="#444" stroke-width="0.7"/>
<circle cx="414.3" cy="13.7" r="4.7" fill="#8a8a8a" stroke="#444" stroke-width="0.7"/>
<circle cx="414.7" cy="12.1" r="4.7" fill="#8a8a8a" stroke="#444" stroke-width="0.7"/>
<circle cx="418.1" cy="8.6" r="4.7" fill="#8a8a8a" stroke="#444" stroke-width="0.7"/>
<circle cx="419.5" cy="8.3" r="4.7" fill="#8a8a8a" stroke="#444" stroke-width="0.7"/>
<circle cx="418.5" cy="10.3" r="4.7" fill="#8a8a8a" stroke="#444" stroke-width="0.7"/>
<circle cx="420.1" cy="9.8" r="4.7" fill="#8a8a8a" stroke="#444" stroke-width="0.7"/>
<circle cx="423.2" cy="7.3" r="4.7" fill="#8a8a8a" stroke="#444" stroke-width="0.7"/>
<circle cx="424.7" cy="6.6" r="4.7" fill="#8a8a8a" stroke="#444" stroke-width="0.7"/>
<circle cx="424.3" cy="7.5" r="4.7" fill="#8a8a8a" stroke="#444" stroke-width="0.7"/>
<circle cx="425.0" cy="7.7" r="4.7" fill="#8a8a8a" stroke="#444" stroke-width="0.7"/>
<circle cx="428.6" cy="4.2" r="4.7" fill="#8a8a8a" stroke="#444" stroke-width="0.7"/>
<circle cx="427.6" cy="6.2" r="4.7" fill="#8a8a8a" stroke="#444" stroke-width="0.7"/>
<text x="310.7" y="115.7" font-size="4.6" text-anchor="middle" fill="#333">9</text>
<text x="302.1" y="121.2" font-size="4.6" text-anchor="middle" fill="#333">63</text>
<text x="306.9" y="121.5" font-size="4.6" text-anchor="middle" fill="#333">50</text>
<text x="281.9" y="126.7" font-size="4.6" text-anchor="middle" fill="#333">51</text>
<text x="287.0" y="130.8" font-size="4.6" text-anchor="middle" fill="#333">55</text>
<text x="292.5" y="128.7" font-size="4.6" text-anchor="middle" fill="#333">16</text>
<text x="297.6" y="126.9" font-size="4.6" text-anchor="middle" fill="#333">65</text>
<text x="302.1" y="126.9" font-size="4.6" text-anchor="middle" fill="#333">78</text>
<text x="279.5" y="136.0" font-size="4.6" text-anchor="middle" fill="#333">7</text>
<text x="285.0" y="136.3" font-size="4.6" text-anchor="middle" fill="#333">14</text>
<text x="290.4" y="134.6" font-size="4.6" text-anchor="middle" fill="#333">5</text>
<text x="279.8" y="141.1" font-size="4.6" text-anchor="middle" fill="#333">98</text>
<text x="327.3" y="131.9" font-size="4.6" text-anchor="middle" fill="#333">341</text>
<text x="321.7" y="137.4" font-size="4.6" text-anchor="middle" fill="#333">40</text>
<text x="312.6" y="141.7" font-size="4.6" text-anchor="middle" fill="#333">31</text>
<text x="306.9" y="145.6" font-size="4.6" text-anchor="middle" fill="#333">36</text>
<text x="312.6" y="147.9" font-size="4.6" text-anchor="middle" fill="#333">21</text>
<text x="318.1" y="145.6" font-size="4.6" text-anchor="middle" fill="#333">46</text>
<text x="295.9" y="151.6" font-size="4.6" text-anchor="middle" fill="#333">26</text>
<text x="301.1" y="150.6" font-size="4.6" text-anchor="middle" fill="#333">87</text>
<text x="306.2" y="151.6" font-size="4.6" text-anchor="middle" fill="#333">35</text>
<text x="311.0" y="155.2" font-size="4.6" text-anchor="middle" fill="#333">56</text>
<text x="296.0" y="156.5" font-size="4.6" text-anchor="middle" fill="#333">8310188</text>
<text x="322.5" y="103.7" font-size="4.6" text-anchor="middle" fill="#333">68</text>
<text x="317.0" y="108.7" font-size="4.6" text-anchor="middle" fill="#333">32</text>
<text x="344.3" y="112.1" font-size="4.6" text-anchor="middle" fill="#333">86</text>
<text x="349.0" y="114.3" font-size="4.6" text-anchor="middle" fill="#333">92</text>
<text x="336.8" y="119.4" font-size="4.6" text-anchor="middle" fill="#333">5</text>
<text x="341.3" y="118.0" font-size="4.6" text-anchor="middle" fill="#333">80</text>
<text x="333.3" y="125.7" font-size="4.6" text-anchor="middle" fill="#333">71</text>
<text x="339.8" y="124.8" font-size="4.6" text-anchor="middle" fill="#333">22</text>
<text x="365.4" y="54.4" font-size="4.6" text-anchor="middle" fill="#333">95</text>
<text x="370.4" y="56.9" font-size="4.6" text-anchor="middle" fill="#333">6</text>
<text x="356.0" y="58.3" font-size="4.6" text-anchor="middle" fill="#333">33</text>
<text x="361.3" y="60.6" font-size="4.6" text-anchor="middle" fill="#333">28</text>
<text x="366.3" y="60.2" font-size="4.6" text-anchor="middle" fill="#333">49</text>
<text x="353.4" y="67.1" font-size="4.6" text-anchor="middle" fill="#333">52</text>
<text x="348.9" y="74.6" font-size="4.6" text-anchor="middle" fill="#333">66</text>
<text x="337.5" y="79.3" font-size="4.6" text-anchor="middle" fill="#333">96</text>
<text x="343.0" y="77.6" font-size="4.6" text-anchor="middle" fill="#333">59</text>
<text x="373.4" y="79.0" font-size="4.6" text-anchor="middle" fill="#333">109</text>
<text x="380.0" y="77.2" font-size="4.6" text-anchor="middle" fill="#333">84</text>
<text x="331.2" y="88.1" font-size="4.6" text-anchor="middle" fill="#333">57</text>
<text x="336.5" y="88.7" font-size="4.6" text-anchor="middle" fill="#333">75</text>
<text x="365.9" y="84.0" font-size="4.6" text-anchor="middle" fill="#333">61</text>
<text x="363.3" y="91.7" font-size="4.6" text-anchor="middle" fill="#333">47</text>
<text x="323.2" y="97.6" font-size="4.6" text-anchor="middle" fill="#333">54</text>
<text x="331.7" y="95.3" font-size="4.6" text-anchor="middle" fill="#333">56</text>
<text x="357.9" y="95.3" font-size="4.6" text-anchor="middle" fill="#333">93</text>
<text x="349.0" y="103.3" font-size="4.6" text-anchor="middle" fill="#333">8</text>
<text x="354.3" y="101.1" font-size="4.6" text-anchor="middle" fill="#333">89</text>
<text x="353.1" y="108.6" font-size="4.6" text-anchor="middle" fill="#333">69</text>
<text x="394.7" y="12.1" font-size="4.6" text-anchor="middle" fill="#333">101</text>
<text x="401.2" y="11.5" font-size="4.6" text-anchor="middle" fill="#333">10</text>
<text x="406.3" y="9.3" font-size="4.6" text-anchor="middle" fill="#333">112</text>
<text x="391.8" y="21.8" font-size="4.6" text-anchor="middle" fill="#333">19</text>
<text x="398.0" y="19.1" font-size="4.6" text-anchor="middle" fill="#333">127</text>
<text x="404.5" y="16.9" font-size="4.6" text-anchor="middle" fill="#333">110</text>
<text x="385.2" y="25.7" font-size="4.6" text-anchor="middle" fill="#333">108</text>
<text x="388.7" y="32.3" font-size="4.6" text-anchor="middle" fill="#333">73</text>
<text x="380.9" y="37.1" font-size="4.6" text-anchor="middle" fill="#333">20</text>
<text x="387.4" y="39.3" font-size="4.6" text-anchor="middle" fill="#333">101</text>
<text x="376.0" y="43.2" font-size="4.6" text-anchor="middle" fill="#333">77</text>
<text x="403.4" y="40.0" font-size="4.6" text-anchor="middle" fill="#333">70</text>
<text x="411.5" y="39.3" font-size="4.6" text-anchor="middle" fill="#333">43</text>
<text x="418.8" y="39.3" font-size="4.6" text-anchor="middle" fill="#333">107</text>
<text x="410.0" y="33.4" font-size="4.6" text-anchor="middle" fill="#333">99</text>
<text x="420.3" y="33.4" font-size="4.6" text-anchor="middle" fill="#333">105</text>
<text x="426.5" y="30.5" font-size="4.6" text-anchor="middle" fill="#333">1</text>
<text x="415.0" y="29.7" font-size="4.6" text-anchor="middle" fill="#333">74</text>
<text x="421.0" y="26.8" font-size="4.6" text-anchor="middle" fill="#333">42</text>
<text x="426.5" y="19.1" font-size="4.6" text-anchor="middle" fill="#333">62</text>
<text x="406.3" y="46.5" font-size="4.6" text-anchor="middle" fill="#333">104</text>
<text x="365.1" y="48.3" font-size="4.6" text-anchor="middle" fill="#333">85</text>
<text x="370.6" y="50.3" font-size="4.6" text-anchor="middle" fill="#333">53</text>
<text x="390.3" y="57.5" font-size="4.6" text-anchor="middle" fill="#333">23</text>
<text x="399.7" y="58.2" font-size="4.6" text-anchor="middle" fill="#333">106</text>
<text x="385.9" y="65.2" font-size="4.6" text-anchor="middle" fill="#333">62</text>
<text x="394.0" y="64.1" font-size="4.6" text-anchor="middle" fill="#333">116</text>
<text x="381.5" y="72.2" font-size="4.6" text-anchor="middle" fill="#333">115</text>
<text x="389.2" y="72.2" font-size="4.6" text-anchor="middle" fill="#333">100</text>
<path d="M276.5,3.6H430.3M276.5,158.5H430.3M276.5,3.6V158.5M430.3,3.6V158.5" stroke="#000" stroke-width="3" stroke-dasharray="1.6 1.3" fill="none"/>
<path d="M276.5,158.5v2" stroke="#000" stroke-width="0.6"/>
<text x="276.5" y="165.8" font-size="4.8" text-anchor="middle" fill="#444" >0.0</text>
<path d="M307.3,158.5v2" stroke="#000" stroke-width="0.6"/>
<text x="307.3" y="165.8" font-size="4.8" text-anchor="middle" fill="#444" >0.2</text>
<path d="M338.0,158.5v2" stroke="#000" stroke-width="0.6"/>
<text x="338.0" y="165.8" font-size="4.8" text-anchor="middle" fill="#444" >0.4</text>
<path d="M368.8,158.5v2" stroke="#000" stroke-width="0.6"/>
<text x="368.8" y="165.8" font-size="4.8" text-anchor="middle" fill="#444" >0.6</text>
<path d="M399.5,158.5v2" stroke="#000" stroke-width="0.6"/>
<text x="399.5" y="165.8" font-size="4.8" text-anchor="middle" fill="#444" >0.8</text>
<path d="M430.3,158.5v2" stroke="#000" stroke-width="0.6"/>
<text x="430.3" y="165.8" font-size="4.8" text-anchor="middle" fill="#444" >1.0</text>
<path d="M276.5,158.5h-2" stroke="#000" stroke-width="0.6"/>
<text x="273.9" y="160.1" font-size="4.8" text-anchor="end" fill="#444" >0.0</text>
<path d="M276.5,127.5h-2" stroke="#000" stroke-width="0.6"/>
<text x="273.9" y="129.1" font-size="4.8" text-anchor="end" fill="#444" >0.2</text>
<path d="M276.5,96.5h-2" stroke="#000" stroke-width="0.6"/>
<text x="273.9" y="98.1" font-size="4.8" text-anchor="end" fill="#444" >0.4</text>
<path d="M276.5,65.6h-2" stroke="#000" stroke-width="0.6"/>
<text x="273.9" y="67.2" font-size="4.8" text-anchor="end" fill="#444" >0.6</text>
<path d="M276.5,34.6h-2" stroke="#000" stroke-width="0.6"/>
<text x="273.9" y="36.2" font-size="4.8" text-anchor="end" fill="#444" >0.8</text>
<path d="M276.5,3.6h-2" stroke="#000" stroke-width="0.6"/>
<text x="273.9" y="5.2" font-size="4.8" text-anchor="end" fill="#444" >1.0</text>
<path d="M276.5,158.5L430.3,3.6" stroke="#000" stroke-width="5" stroke-dasharray="1.1 0.8"/>
<text x="323.4" y="175.6" font-size="6.3" textLength="52.3" lengthAdjust="spacingAndGlyphs" fill="#000" stroke="#000" stroke-width="0.08">Observed Cum Prob</text>
<text transform="translate(261.3,79.5) rotate(-90)" x="-24.1" y="0" font-size="6.3" textLength="48.3" lengthAdjust="spacingAndGlyphs" fill="#000" stroke="#000" stroke-width="0.08">Expected Cum Prob</text>
<text x="252.5" y="157.7" font-size="10.6" font-weight="bold" fill="#000" textLength="6.2" lengthAdjust="spacingAndGlyphs">B</text>
<path d="M275.6,191.1H430.1M275.6,345.5H430.1M275.6,191.1V345.5M430.1,191.1V345.5" stroke="#000" stroke-width="3" stroke-dasharray="1.6 1.3" fill="none"/>
<path d="M275.6,345.5v2" stroke="#000" stroke-width="0.6"/>
<text x="275.6" y="352.8" font-size="4.8" text-anchor="middle" fill="#444" >0.0</text>
<path d="M306.5,345.5v2" stroke="#000" stroke-width="0.6"/>
<text x="306.5" y="352.8" font-size="4.8" text-anchor="middle" fill="#444" >0.2</text>
<path d="M337.4,345.5v2" stroke="#000" stroke-width="0.6"/>
<text x="337.4" y="352.8" font-size="4.8" text-anchor="middle" fill="#444" >0.4</text>
<path d="M368.3,345.5v2" stroke="#000" stroke-width="0.6"/>
<text x="368.3" y="352.8" font-size="4.8" text-anchor="middle" fill="#444" >0.6</text>
<path d="M399.2,345.5v2" stroke="#000" stroke-width="0.6"/>
<text x="399.2" y="352.8" font-size="4.8" text-anchor="middle" fill="#444" >0.8</text>
<path d="M430.1,345.5v2" stroke="#000" stroke-width="0.6"/>
<text x="430.1" y="352.8" font-size="4.8" text-anchor="middle" fill="#444" >1.0</text>
<path d="M275.6,345.5h-2" stroke="#000" stroke-width="0.6"/>
<text x="273.0" y="347.1" font-size="4.8" text-anchor="end" fill="#444" >0.0</text>
<path d="M275.6,314.6h-2" stroke="#000" stroke-width="0.6"/>
<text x="273.0" y="316.2" font-size="4.8" text-anchor="end" fill="#444" >0.2</text>
<path d="M275.6,283.7h-2" stroke="#000" stroke-width="0.6"/>
<text x="273.0" y="285.3" font-size="4.8" text-anchor="end" fill="#444" >0.4</text>
<path d="M275.6,252.9h-2" stroke="#000" stroke-width="0.6"/>
<text x="273.0" y="254.5" font-size="4.8" text-anchor="end" fill="#444" >0.6</text>
<path d="M275.6,222.0h-2" stroke="#000" stroke-width="0.6"/>
<text x="273.0" y="223.6" font-size="4.8" text-anchor="end" fill="#444" >0.8</text>
<path d="M275.6,191.1h-2" stroke="#000" stroke-width="0.6"/>
<text x="273.0" y="192.7" font-size="4.8" text-anchor="end" fill="#444" >1.0</text>
<clipPath id="clipE"><rect x="275.6" y="191.1" width="154.5" height="154.4"/></clipPath>
<g clip-path="url(#clipE)">
<circle cx="277.8" cy="337.4" r="5.0" fill="#9a9a9a" stroke="#333" stroke-width="0.55"/>
<circle cx="276.8" cy="334.6" r="5.0" fill="#9a9a9a" stroke="#333" stroke-width="0.55"/>
<circle cx="280.2" cy="334.3" r="5.0" fill="#9a9a9a" stroke="#333" stroke-width="0.55"/>
<circle cx="279.1" cy="330.7" r="5.0" fill="#9a9a9a" stroke="#333" stroke-width="0.55"/>
<circle cx="282.3" cy="330.3" r="5.0" fill="#9a9a9a" stroke="#333" stroke-width="0.55"/>
<circle cx="283.2" cy="328.6" r="5.0" fill="#9a9a9a" stroke="#333" stroke-width="0.55"/>
<circle cx="284.1" cy="326.6" r="5.0" fill="#9a9a9a" stroke="#333" stroke-width="0.55"/>
<circle cx="286.2" cy="328.3" r="5.0" fill="#9a9a9a" stroke="#333" stroke-width="0.55"/>
<circle cx="286.7" cy="325.5" r="5.0" fill="#9a9a9a" stroke="#333" stroke-width="0.55"/>
<circle cx="288.7" cy="327.0" r="5.0" fill="#9a9a9a" stroke="#333" stroke-width="0.55"/>
<circle cx="289.3" cy="324.8" r="5.0" fill="#9a9a9a" stroke="#333" stroke-width="0.55"/>
<circle cx="290.5" cy="324.3" r="5.0" fill="#9a9a9a" stroke="#333" stroke-width="0.55"/>
<circle cx="292.6" cy="325.2" r="5.0" fill="#9a9a9a" stroke="#333" stroke-width="0.55"/>
<circle cx="294.8" cy="326.5" r="5.0" fill="#9a9a9a" stroke="#333" stroke-width="0.55"/>
<circle cx="294.5" cy="322.5" r="5.0" fill="#9a9a9a" stroke="#333" stroke-width="0.55"/>
<circle cx="296.1" cy="322.3" r="5.0" fill="#9a9a9a" stroke="#333" stroke-width="0.55"/>
<circle cx="298.4" cy="323.5" r="5.0" fill="#9a9a9a" stroke="#333" stroke-width="0.55"/>
<circle cx="300.6" cy="324.1" r="5.0" fill="#9a9a9a" stroke="#333" stroke-width="0.55"/>
<circle cx="300.9" cy="321.6" r="5.0" fill="#9a9a9a" stroke="#333" stroke-width="0.55"/>
<circle cx="301.7" cy="319.9" r="5.0" fill="#9a9a9a" stroke="#333" stroke-width="0.55"/>
<circle cx="304.7" cy="321.6" r="5.0" fill="#9a9a9a" stroke="#333" stroke-width="0.55"/>
<circle cx="303.4" cy="316.7" r="5.0" fill="#9a9a9a" stroke="#333" stroke-width="0.55"/>
<circle cx="307.0" cy="319.4" r="5.0" fill="#9a9a9a" stroke="#333" stroke-width="0.55"/>
<circle cx="306.7" cy="316.0" r="5.0" fill="#9a9a9a" stroke="#333" stroke-width="0.55"/>
<circle cx="307.6" cy="314.6" r="5.0" fill="#9a9a9a" stroke="#333" stroke-width="0.55"/>
<circle cx="308.9" cy="313.6" r="5.0" fill="#9a9a9a" stroke="#333" stroke-width="0.55"/>
<circle cx="310.7" cy="313.6" r="5.0" fill="#9a9a9a" stroke="#333" stroke-width="0.55"/>
<circle cx="313.5" cy="314.9" r="5.0" fill="#9a9a9a" stroke="#333" stroke-width="0.55"/>
<circle cx="313.0" cy="311.3" r="5.0" fill="#9a9a9a" stroke="#333" stroke-width="0.55"/>
<circle cx="315.4" cy="312.2" r="5.0" fill="#9a9a9a" stroke="#333" stroke-width="0.55"/>
<circle cx="316.9" cy="311.5" r="5.0" fill="#9a9a9a" stroke="#333" stroke-width="0.55"/>
<circle cx="317.5" cy="309.5" r="5.0" fill="#9a9a9a" stroke="#333" stroke-width="0.55"/>
<circle cx="319.3" cy="309.4" r="5.0" fill="#9a9a9a" stroke="#333" stroke-width="0.55"/>
<circle cx="319.3" cy="306.4" r="5.0" fill="#9a9a9a" stroke="#333" stroke-width="0.55"/>
<circle cx="320.6" cy="305.5" r="5.0" fill="#9a9a9a" stroke="#333" stroke-width="0.55"/>
<circle cx="322.3" cy="305.4" r="5.0" fill="#9a9a9a" stroke="#333" stroke-width="0.55"/>
<circle cx="325.0" cy="306.6" r="5.0" fill="#9a9a9a" stroke="#333" stroke-width="0.55"/>
<circle cx="325.6" cy="304.7" r="5.0" fill="#9a9a9a" stroke="#333" stroke-width="0.55"/>
<circle cx="326.6" cy="303.4" r="5.0" fill="#9a9a9a" stroke="#333" stroke-width="0.55"/>
<circle cx="328.7" cy="303.7" r="5.0" fill="#9a9a9a" stroke="#333" stroke-width="0.55"/>
<circle cx="329.6" cy="302.0" r="5.0" fill="#9a9a9a" stroke="#333" stroke-width="0.55"/>
<circle cx="330.3" cy="299.9" r="5.0" fill="#9a9a9a" stroke="#333" stroke-width="0.55"/>
<circle cx="333.6" cy="300.0" r="5.0" fill="#9a9a9a" stroke="#333" stroke-width="0.55"/>
<circle cx="334.5" cy="298.1" r="5.0" fill="#9a9a9a" stroke="#333" stroke-width="0.55"/>
<circle cx="334.0" cy="295.0" r="5.0" fill="#9a9a9a" stroke="#333" stroke-width="0.55"/>
<circle cx="336.6" cy="294.6" r="5.0" fill="#9a9a9a" stroke="#333" stroke-width="0.55"/>
<circle cx="337.8" cy="292.8" r="5.0" fill="#9a9a9a" stroke="#333" stroke-width="0.55"/>
<circle cx="340.5" cy="292.5" r="5.0" fill="#9a9a9a" stroke="#333" stroke-width="0.55"/>
<circle cx="341.2" cy="290.5" r="5.0" fill="#9a9a9a" stroke="#333" stroke-width="0.55"/>
<circle cx="340.9" cy="287.6" r="5.0" fill="#9a9a9a" stroke="#333" stroke-width="0.55"/>
<circle cx="344.7" cy="288.9" r="5.0" fill="#9a9a9a" stroke="#333" stroke-width="0.55"/>
<circle cx="342.9" cy="284.4" r="5.0" fill="#9a9a9a" stroke="#333" stroke-width="0.55"/>
<circle cx="345.3" cy="284.3" r="5.0" fill="#9a9a9a" stroke="#333" stroke-width="0.55"/>
<circle cx="347.8" cy="284.3" r="5.0" fill="#9a9a9a" stroke="#333" stroke-width="0.55"/>
<circle cx="347.0" cy="280.7" r="5.0" fill="#9a9a9a" stroke="#333" stroke-width="0.55"/>
<circle cx="349.5" cy="280.7" r="5.0" fill="#9a9a9a" stroke="#333" stroke-width="0.55"/>
<circle cx="349.3" cy="277.7" r="5.0" fill="#9a9a9a" stroke="#333" stroke-width="0.55"/>
<circle cx="352.8" cy="279.0" r="5.0" fill="#9a9a9a" stroke="#333" stroke-width="0.55"/>
<circle cx="354.4" cy="278.2" r="5.0" fill="#9a9a9a" stroke="#333" stroke-width="0.55"/>
<circle cx="355.1" cy="276.3" r="5.0" fill="#9a9a9a" stroke="#333" stroke-width="0.55"/>
<circle cx="357.4" cy="276.4" r="5.0" fill="#9a9a9a" stroke="#333" stroke-width="0.55"/>
<circle cx="356.8" cy="273.0" r="5.0" fill="#9a9a9a" stroke="#333" stroke-width="0.55"/>
<circle cx="359.5" cy="273.3" r="5.0" fill="#9a9a9a" stroke="#333" stroke-width="0.55"/>
<circle cx="360.4" cy="271.8" r="5.0" fill="#9a9a9a" stroke="#333" stroke-width="0.55"/>
<circle cx="361.7" cy="270.6" r="5.0" fill="#9a9a9a" stroke="#333" stroke-width="0.55"/>
<circle cx="362.6" cy="269.1" r="5.0" fill="#9a9a9a" stroke="#333" stroke-width="0.55"/>
<circle cx="365.2" cy="269.5" r="5.0" fill="#9a9a9a" stroke="#333" stroke-width="0.55"/>
<circle cx="366.9" cy="268.9" r="5.0" fill="#9a9a9a" stroke="#333" stroke-width="0.55"/>
<circle cx="366.6" cy="265.9" r="5.0" fill="#9a9a9a" stroke="#333" stroke-width="0.55"/>
<circle cx="368.6" cy="265.6" r="5.0" fill="#9a9a9a" stroke="#333" stroke-width="0.55"/>
<circle cx="367.9" cy="262.1" r="5.0" fill="#9a9a9a" stroke="#333" stroke-width="0.55"/>
<circle cx="371.4" cy="263.3" r="5.0" fill="#9a9a9a" stroke="#333" stroke-width="0.55"/>
<circle cx="372.6" cy="261.7" r="5.0" fill="#9a9a9a" stroke="#333" stroke-width="0.55"/>
<circle cx="375.2" cy="261.5" r="5.0" fill="#9a9a9a" stroke="#333" stroke-width="0.55"/>
<circle cx="375.9" cy="259.5" r="5.0" fill="#9a9a9a" stroke="#333" stroke-width="0.55"/>
<circle cx="375.2" cy="256.2" r="5.0" fill="#9a9a9a" stroke="#333" stroke-width="0.55"/>
<circle cx="376.9" cy="255.3" r="5.0" fill="#9a9a9a" stroke="#333" stroke-width="0.55"/>
<circle cx="379.2" cy="255.2" r="5.0" fill="#9a9a9a" stroke="#333" stroke-width="0.55"/>
<circle cx="378.3" cy="251.6" r="5.0" fill="#9a9a9a" stroke="#333" stroke-width="0.55"/>
<circle cx="381.1" cy="252.1" r="5.0" fill="#9a9a9a" stroke="#333" stroke-width="0.55"/>
<circle cx="381.4" cy="249.8" r="5.0" fill="#9a9a9a" stroke="#333" stroke-width="0.55"/>
<circle cx="382.6" cy="248.5" r="5.0" fill="#9a9a9a" stroke="#333" stroke-width="0.55"/>
<circle cx="383.7" cy="247.1" r="5.0" fill="#9a9a9a" stroke="#333" stroke-width="0.55"/>
<circle cx="387.4" cy="248.7" r="5.0" fill="#9a9a9a" stroke="#333" stroke-width="0.55"/>
<circle cx="386.5" cy="245.2" r="5.0" fill="#9a9a9a" stroke="#333" stroke-width="0.55"/>
<circle cx="388.2" cy="244.2" r="5.0" fill="#9a9a9a" stroke="#333" stroke-width="0.55"/>
<circle cx="390.0" cy="243.0" r="5.0" fill="#9a9a9a" stroke="#333" stroke-width="0.55"/>
<circle cx="393.3" cy="243.0" r="5.0" fill="#9a9a9a" stroke="#333" stroke-width="0.55"/>
<circle cx="391.4" cy="238.8" r="5.0" fill="#9a9a9a" stroke="#333" stroke-width="0.55"/>
<circle cx="394.2" cy="238.5" r="5.0" fill="#9a9a9a" stroke="#333" stroke-width="0.55"/>
<circle cx="396.0" cy="234.2" r="5.0" fill="#9a9a9a" stroke="#333" stroke-width="0.55"/>
<circle cx="399.0" cy="230.0" r="5.0" fill="#9a9a9a" stroke="#333" stroke-width="0.55"/>
<circle cx="400.0" cy="225.0" r="5.0" fill="#9a9a9a" stroke="#333" stroke-width="0.55"/>
<circle cx="401.5" cy="220.5" r="5.0" fill="#9a9a9a" stroke="#333" stroke-width="0.55"/>
<circle cx="400.0" cy="216.0" r="5.0" fill="#9a9a9a" stroke="#333" stroke-width="0.55"/>
<circle cx="402.0" cy="212.7" r="5.0" fill="#9a9a9a" stroke="#333" stroke-width="0.55"/>
<circle cx="403.1" cy="210.2" r="5.0" fill="#9a9a9a" stroke="#333" stroke-width="0.55"/>
<circle cx="406.6" cy="210.0" r="5.0" fill="#9a9a9a" stroke="#333" stroke-width="0.55"/>
<circle cx="408.2" cy="208.5" r="5.0" fill="#9a9a9a" stroke="#333" stroke-width="0.55"/>
<circle cx="406.4" cy="204.0" r="5.0" fill="#9a9a9a" stroke="#333" stroke-width="0.55"/>
<circle cx="408.2" cy="203.0" r="5.0" fill="#9a9a9a" stroke="#333" stroke-width="0.55"/>
<circle cx="409.6" cy="202.6" r="5.0" fill="#9a9a9a" stroke="#333" stroke-width="0.55"/>
<circle cx="411.0" cy="201.9" r="5.0" fill="#9a9a9a" stroke="#333" stroke-width="0.55"/>
<circle cx="412.9" cy="202.4" r="5.0" fill="#9a9a9a" stroke="#333" stroke-width="0.55"/>
<circle cx="414.5" cy="202.1" r="5.0" fill="#9a9a9a" stroke="#333" stroke-width="0.55"/>
<circle cx="414.8" cy="199.7" r="5.0" fill="#9a9a9a" stroke="#333" stroke-width="0.55"/>
<circle cx="415.3" cy="197.6" r="5.0" fill="#9a9a9a" stroke="#333" stroke-width="0.55"/>
<circle cx="418.0" cy="198.3" r="5.0" fill="#9a9a9a" stroke="#333" stroke-width="0.55"/>
<circle cx="419.2" cy="197.0" r="5.0" fill="#9a9a9a" stroke="#333" stroke-width="0.55"/>
<circle cx="421.0" cy="197.3" r="5.0" fill="#9a9a9a" stroke="#333" stroke-width="0.55"/>
<circle cx="422.8" cy="198.9" r="5.0" fill="#9a9a9a" stroke="#333" stroke-width="0.55"/>
<circle cx="423.8" cy="197.2" r="5.0" fill="#9a9a9a" stroke="#333" stroke-width="0.55"/>
<circle cx="424.8" cy="196.0" r="5.0" fill="#9a9a9a" stroke="#333" stroke-width="0.55"/>
<circle cx="426.3" cy="196.1" r="5.0" fill="#9a9a9a" stroke="#333" stroke-width="0.55"/>
<circle cx="427.7" cy="196.0" r="5.0" fill="#9a9a9a" stroke="#333" stroke-width="0.55"/>
<circle cx="428.2" cy="192.4" r="5.0" fill="#9a9a9a" stroke="#333" stroke-width="0.55"/>
</g>
<path d="M275.6,345.5L430.1,191.1" stroke="#000" stroke-width="3.8" stroke-dasharray="0.85 1.9"/>
<text x="324.0" y="293.2" font-size="4.6" text-anchor="middle" fill="#333">22</text>
<text x="317.7" y="296.4" font-size="4.6" text-anchor="middle" fill="#333">37</text>
<text x="315.6" y="301.9" font-size="4.6" text-anchor="middle" fill="#333">32</text>
<text x="301.3" y="304.3" font-size="4.6" text-anchor="middle" fill="#333">65</text>
<text x="307.0" y="306.2" font-size="4.6" text-anchor="middle" fill="#333">2</text>
<text x="312.9" y="306.2" font-size="4.6" text-anchor="middle" fill="#333">30</text>
<text x="291.8" y="308.3" font-size="4.6" text-anchor="middle" fill="#333">40</text>
<text x="297.5" y="309.9" font-size="4.6" text-anchor="middle" fill="#333">46</text>
<text x="284.3" y="315.1" font-size="4.6" text-anchor="middle" fill="#333">88</text>
<text x="292.7" y="314.6" font-size="4.6" text-anchor="middle" fill="#333">62</text>
<text x="289.1" y="317.8" font-size="4.6" text-anchor="middle" fill="#333">5</text>
<text x="329.6" y="312.2" font-size="4.6" text-anchor="middle" fill="#333">29</text>
<text x="325.6" y="321.0" font-size="4.6" text-anchor="middle" fill="#333">187</text>
<text x="283.8" y="321.0" font-size="4.6" text-anchor="middle" fill="#333">14</text>
<text x="278.4" y="322.6" font-size="4.6" text-anchor="middle" fill="#333">30</text>
<text x="310.8" y="325.7" font-size="4.6" text-anchor="middle" fill="#333">64</text>
<text x="316.5" y="324.1" font-size="4.6" text-anchor="middle" fill="#333">61</text>
<text x="321.6" y="326.8" font-size="4.6" text-anchor="middle" fill="#333">79</text>
<text x="298.1" y="333.7" font-size="4.6" text-anchor="middle" fill="#333">21</text>
<text x="302.3" y="334.1" font-size="4.6" text-anchor="middle" fill="#333">55</text>
<text x="311.8" y="331.6" font-size="4.6" text-anchor="middle" fill="#333">16</text>
<text x="291.1" y="340.8" font-size="4.6" text-anchor="middle" fill="#333">17</text>
<text x="297.0" y="340.1" font-size="4.6" text-anchor="middle" fill="#333">7287</text>
<text x="284.3" y="343.7" font-size="4.6" text-anchor="middle" fill="#333">83</text>
<text x="379.5" y="234.5" font-size="4.6" text-anchor="middle" fill="#333">53</text>
<text x="369.5" y="243.1" font-size="4.6" text-anchor="middle" fill="#333">108</text>
<text x="366.1" y="250.8" font-size="4.6" text-anchor="middle" fill="#333">90</text>
<text x="358.0" y="256.2" font-size="4.6" text-anchor="middle" fill="#333">115</text>
<text x="351.1" y="260.8" font-size="4.6" text-anchor="middle" fill="#333">67</text>
<text x="345.3" y="266.1" font-size="4.6" text-anchor="middle" fill="#333">47</text>
<text x="350.0" y="266.4" font-size="4.6" text-anchor="middle" fill="#333">58</text>
<text x="334.4" y="272.3" font-size="4.6" text-anchor="middle" fill="#333">61</text>
<text x="331.5" y="277.7" font-size="4.6" text-anchor="middle" fill="#333">88</text>
<text x="339.6" y="276.7" font-size="4.6" text-anchor="middle" fill="#333">66</text>
<text x="333.8" y="284.4" font-size="4.6" text-anchor="middle" fill="#333">86</text>
<text x="327.7" y="288.8" font-size="4.6" text-anchor="middle" fill="#333">4</text>
<text x="396.8" y="249.3" font-size="4.6" text-anchor="middle" fill="#333">95</text>
<text x="391.0" y="260.0" font-size="4.6" text-anchor="middle" fill="#333">111</text>
<text x="381.4" y="261.9" font-size="4.6" text-anchor="middle" fill="#333">106</text>
<text x="388.7" y="265.8" font-size="4.6" text-anchor="middle" fill="#333">23</text>
<text x="377.2" y="267.7" font-size="4.6" text-anchor="middle" fill="#333">95</text>
<text x="371.4" y="272.9" font-size="4.6" text-anchor="middle" fill="#333">49</text>
<text x="379.9" y="273.8" font-size="4.6" text-anchor="middle" fill="#333">100</text>
<text x="365.1" y="276.1" font-size="4.6" text-anchor="middle" fill="#333">64</text>
<text x="366.1" y="281.9" font-size="4.6" text-anchor="middle" fill="#333">52</text>
<text x="356.1" y="283.0" font-size="4.6" text-anchor="middle" fill="#333">90</text>
<text x="360.7" y="285.3" font-size="4.6" text-anchor="middle" fill="#333">91</text>
<text x="353.6" y="289.6" font-size="4.6" text-anchor="middle" fill="#333">93</text>
<text x="358.4" y="290.7" font-size="4.6" text-anchor="middle" fill="#333">69</text>
<text x="345.9" y="298.4" font-size="4.6" text-anchor="middle" fill="#333">54</text>
<text x="400.0" y="196.0" font-size="4.6" text-anchor="middle" fill="#333">112</text>
<text x="391.7" y="200.3" font-size="4.6" text-anchor="middle" fill="#333">11</text>
<text x="402.1" y="200.3" font-size="4.6" text-anchor="middle" fill="#333">11</text>
<text x="396.8" y="203.6" font-size="4.6" text-anchor="middle" fill="#333">12</text>
<text x="394.2" y="210.7" font-size="4.6" text-anchor="middle" fill="#333">43</text>
<text x="419.2" y="208.8" font-size="4.6" text-anchor="middle" fill="#333">42</text>
<text x="424.9" y="206.4" font-size="4.6" text-anchor="middle" fill="#333">38</text>
<text x="425.3" y="211.7" font-size="4.6" text-anchor="middle" fill="#333">102</text>
<text x="413.5" y="215.2" font-size="4.6" text-anchor="middle" fill="#333">108</text>
<text x="422.0" y="217.0" font-size="4.6" text-anchor="middle" fill="#333">107</text>
<text x="392.5" y="220.2" font-size="4.6" text-anchor="middle" fill="#333">73</text>
<text x="414.2" y="220.7" font-size="4.6" text-anchor="middle" fill="#333">113</text>
<text x="426.3" y="222.7" font-size="4.6" text-anchor="middle" fill="#333">110</text>
<text x="408.2" y="223.5" font-size="4.6" text-anchor="middle" fill="#333">51</text>
<text x="389.3" y="226.4" font-size="4.6" text-anchor="middle" fill="#333">19</text>
<text x="414.2" y="226.6" font-size="4.6" text-anchor="middle" fill="#333">103</text>
<text x="406.8" y="228.8" font-size="4.6" text-anchor="middle" fill="#333">35</text>
<text x="404.8" y="239.9" font-size="4.6" text-anchor="middle" fill="#333">104</text>
<text x="404.7" y="247.1" font-size="4.6" text-anchor="middle" fill="#333">97</text>
<text x="398.6" y="255.8" font-size="4.6" text-anchor="middle" fill="#333">116</text>
<text x="369.5" y="242.6" font-size="4.6" text-anchor="middle" fill="#333">109</text>
<text x="347.5" y="303.9" font-size="4.6" text-anchor="middle" fill="#333">68</text>
<text x="342.2" y="308.8" font-size="4.6" text-anchor="middle" fill="#333">60</text>
<text x="334.4" y="308.8" font-size="4.6" text-anchor="middle" fill="#333">5</text>
<text x="336.4" y="314.1" font-size="4.6" text-anchor="middle" fill="#333">71</text>
<text x="323.4" y="362.5" font-size="6.3" textLength="52.3" lengthAdjust="spacingAndGlyphs" fill="#000" stroke="#000" stroke-width="0.08">Observed Cum Prob</text>
<text transform="translate(261.3,266.4) rotate(-90)" x="-24.1" y="0" font-size="6.3" textLength="48.3" lengthAdjust="spacingAndGlyphs" fill="#000" stroke="#000" stroke-width="0.08">Expected Cum Prob</text>
<text x="252.5" y="345.0" font-size="10.6" font-weight="bold" fill="#000" textLength="5.8" lengthAdjust="spacingAndGlyphs">E</text>
<path d="M472.4,3.4H705.5M472.4,158.0H705.5M472.4,3.4V158.0M705.5,3.4V158.0" stroke="#000" stroke-width="3" stroke-dasharray="1.6 1.3" fill="none"/>
<path d="M484.4,158.0v2" stroke="#000" stroke-width="0.6"/>
<text x="484.4" y="165.3" font-size="4.8" text-anchor="middle" fill="#444" >-2</text>
<path d="M526.2,158.0v2" stroke="#000" stroke-width="0.6"/>
<text x="526.2" y="165.3" font-size="4.8" text-anchor="middle" fill="#444" >-1</text>
<path d="M568.0,158.0v2" stroke="#000" stroke-width="0.6"/>
<text x="568.0" y="165.3" font-size="4.8" text-anchor="middle" fill="#444" >0</text>
<path d="M609.8,158.0v2" stroke="#000" stroke-width="0.6"/>
<text x="609.8" y="165.3" font-size="4.8" text-anchor="middle" fill="#444" >1</text>
<path d="M651.6,158.0v2" stroke="#000" stroke-width="0.6"/>
<text x="651.6" y="165.3" font-size="4.8" text-anchor="middle" fill="#444" >2</text>
<path d="M693.4,158.0v2" stroke="#000" stroke-width="0.6"/>
<text x="693.4" y="165.3" font-size="4.8" text-anchor="middle" fill="#444" >3</text>
<path d="M472.4,150.9h-2" stroke="#000" stroke-width="0.6"/>
<text transform="translate(469.6,150.9) rotate(-90)" x="0" y="0" font-size="4.4" text-anchor="middle" fill="#555">-3</text>
<path d="M472.4,127.7h-2" stroke="#000" stroke-width="0.6"/>
<text transform="translate(469.6,127.7) rotate(-90)" x="0" y="0" font-size="4.4" text-anchor="middle" fill="#555">-2</text>
<path d="M472.4,104.5h-2" stroke="#000" stroke-width="0.6"/>
<text transform="translate(469.6,104.5) rotate(-90)" x="0" y="0" font-size="4.4" text-anchor="middle" fill="#555">-1</text>
<path d="M472.4,81.3h-2" stroke="#000" stroke-width="0.6"/>
<text transform="translate(469.6,81.3) rotate(-90)" x="0" y="0" font-size="4.4" text-anchor="middle" fill="#555">0</text>
<path d="M472.4,58.1h-2" stroke="#000" stroke-width="0.6"/>
<text transform="translate(469.6,58.1) rotate(-90)" x="0" y="0" font-size="4.4" text-anchor="middle" fill="#555">1</text>
<path d="M472.4,34.9h-2" stroke="#000" stroke-width="0.6"/>
<text transform="translate(469.6,34.9) rotate(-90)" x="0" y="0" font-size="4.4" text-anchor="middle" fill="#555">2</text>
<path d="M472.4,11.7h-2" stroke="#000" stroke-width="0.6"/>
<text transform="translate(469.6,11.7) rotate(-90)" x="0" y="0" font-size="4.4" text-anchor="middle" fill="#555">3</text>
<circle cx="530.7" cy="32.1" r="4.9" fill="#999" stroke="#333" stroke-width="0.8"/>
<circle cx="507.7" cy="46.4" r="4.9" fill="#999" stroke="#333" stroke-width="0.8"/>
<circle cx="518.5" cy="54.3" r="4.9" fill="#999" stroke="#333" stroke-width="0.8"/>
<circle cx="528.5" cy="54.0" r="4.9" fill="#999" stroke="#333" stroke-width="0.8"/>
<circle cx="507.0" cy="60.5" r="4.9" fill="#999" stroke="#333" stroke-width="0.8"/>
<circle cx="529.5" cy="61.8" r="4.9" fill="#999" stroke="#333" stroke-width="0.8"/>
<circle cx="500.2" cy="66.2" r="4.9" fill="#999" stroke="#333" stroke-width="0.8"/>
<circle cx="520.2" cy="68.9" r="4.9" fill="#999" stroke="#333" stroke-width="0.8"/>
<circle cx="501.5" cy="75.7" r="4.9" fill="#999" stroke="#333" stroke-width="0.8"/>
<circle cx="505.9" cy="76.1" r="4.9" fill="#999" stroke="#333" stroke-width="0.8"/>
<circle cx="517.3" cy="80.4" r="4.9" fill="#999" stroke="#333" stroke-width="0.8"/>
<circle cx="531.3" cy="77.0" r="4.9" fill="#999" stroke="#333" stroke-width="0.8"/>
<circle cx="500.8" cy="84.3" r="4.9" fill="#999" stroke="#333" stroke-width="0.8"/>
<circle cx="506.8" cy="88.8" r="4.9" fill="#999" stroke="#333" stroke-width="0.8"/>
<circle cx="515.4" cy="93.4" r="4.9" fill="#999" stroke="#333" stroke-width="0.8"/>
<circle cx="528.9" cy="88.7" r="4.9" fill="#999" stroke="#333" stroke-width="0.8"/>
<circle cx="537.5" cy="93.6" r="4.9" fill="#999" stroke="#333" stroke-width="0.8"/>
<circle cx="538.5" cy="84.6" r="4.9" fill="#999" stroke="#333" stroke-width="0.8"/>
<circle cx="542.0" cy="70.5" r="4.9" fill="#999" stroke="#333" stroke-width="0.8"/>
<circle cx="541.0" cy="73.6" r="4.9" fill="#999" stroke="#333" stroke-width="0.8"/>
<circle cx="550.0" cy="71.2" r="4.9" fill="#999" stroke="#333" stroke-width="0.8"/>
<circle cx="559.4" cy="71.4" r="4.9" fill="#999" stroke="#333" stroke-width="0.8"/>
<circle cx="556.2" cy="77.5" r="4.9" fill="#999" stroke="#333" stroke-width="0.8"/>
<circle cx="552.5" cy="54.4" r="4.9" fill="#999" stroke="#333" stroke-width="0.8"/>
<circle cx="564.0" cy="52.1" r="4.9" fill="#999" stroke="#333" stroke-width="0.8"/>
<circle cx="566.2" cy="61.0" r="4.9" fill="#999" stroke="#333" stroke-width="0.8"/>
<circle cx="554.9" cy="36.7" r="4.9" fill="#999" stroke="#333" stroke-width="0.8"/>
<circle cx="558.7" cy="37.3" r="4.9" fill="#999" stroke="#333" stroke-width="0.8"/>
<circle cx="565.4" cy="93.3" r="4.9" fill="#999" stroke="#333" stroke-width="0.8"/>
<circle cx="573.8" cy="75.8" r="4.9" fill="#999" stroke="#333" stroke-width="0.8"/>
<circle cx="577.9" cy="70.5" r="4.9" fill="#999" stroke="#333" stroke-width="0.8"/>
<circle cx="578.2" cy="61.5" r="4.9" fill="#999" stroke="#333" stroke-width="0.8"/>
<circle cx="552.0" cy="97.0" r="4.9" fill="#999" stroke="#333" stroke-width="0.8"/>
<circle cx="524.1" cy="94.3" r="4.9" fill="#999" stroke="#333" stroke-width="0.8"/>
<circle cx="522.1" cy="87.1" r="4.9" fill="#999" stroke="#333" stroke-width="0.8"/>
<circle cx="526.3" cy="92.8" r="4.9" fill="#999" stroke="#333" stroke-width="0.8"/>
<circle cx="542.2" cy="96.7" r="4.9" fill="#999" stroke="#333" stroke-width="0.8"/>
<circle cx="541.3" cy="105.9" r="4.9" fill="#999" stroke="#333" stroke-width="0.8"/>
<circle cx="532.6" cy="100.5" r="4.9" fill="#999" stroke="#333" stroke-width="0.8"/>
<circle cx="525.5" cy="105.9" r="4.9" fill="#999" stroke="#333" stroke-width="0.8"/>
<circle cx="523.0" cy="112.0" r="4.9" fill="#999" stroke="#333" stroke-width="0.8"/>
<circle cx="525.5" cy="116.4" r="4.9" fill="#999" stroke="#333" stroke-width="0.8"/>
<circle cx="522.1" cy="133.1" r="4.9" fill="#999" stroke="#333" stroke-width="0.8"/>
<circle cx="550.9" cy="112.0" r="4.9" fill="#999" stroke="#333" stroke-width="0.8"/>
<circle cx="560.5" cy="111.1" r="4.9" fill="#999" stroke="#333" stroke-width="0.8"/>
<circle cx="563.3" cy="111.1" r="4.9" fill="#999" stroke="#333" stroke-width="0.8"/>
<circle cx="571.0" cy="96.7" r="4.9" fill="#999" stroke="#333" stroke-width="0.8"/>
<circle cx="572.9" cy="90.0" r="4.9" fill="#999" stroke="#333" stroke-width="0.8"/>
<circle cx="564.3" cy="104.3" r="4.9" fill="#999" stroke="#333" stroke-width="0.8"/>
<circle cx="577.0" cy="120.5" r="4.9" fill="#999" stroke="#333" stroke-width="0.8"/>
<circle cx="581.1" cy="55.1" r="4.9" fill="#999" stroke="#333" stroke-width="0.8"/>
<circle cx="585.9" cy="58.0" r="4.9" fill="#999" stroke="#333" stroke-width="0.8"/>
<circle cx="593.6" cy="55.3" r="4.9" fill="#999" stroke="#333" stroke-width="0.8"/>
<circle cx="583.0" cy="71.8" r="4.9" fill="#999" stroke="#333" stroke-width="0.8"/>
<circle cx="608.0" cy="53.2" r="4.9" fill="#999" stroke="#333" stroke-width="0.8"/>
<circle cx="610.9" cy="58.9" r="4.9" fill="#999" stroke="#333" stroke-width="0.8"/>
<circle cx="615.7" cy="54.1" r="4.9" fill="#999" stroke="#333" stroke-width="0.8"/>
<circle cx="615.7" cy="59.9" r="4.9" fill="#999" stroke="#333" stroke-width="0.8"/>
<circle cx="624.3" cy="54.1" r="4.9" fill="#999" stroke="#333" stroke-width="0.8"/>
<circle cx="613.7" cy="73.5" r="4.9" fill="#999" stroke="#333" stroke-width="0.8"/>
<circle cx="578.2" cy="88.2" r="4.9" fill="#999" stroke="#333" stroke-width="0.8"/>
<circle cx="583.4" cy="92.1" r="4.9" fill="#999" stroke="#333" stroke-width="0.8"/>
<circle cx="565.8" cy="92.6" r="4.9" fill="#999" stroke="#333" stroke-width="0.8"/>
<circle cx="571.5" cy="95.9" r="4.9" fill="#999" stroke="#333" stroke-width="0.8"/>
<circle cx="562.9" cy="103.6" r="4.9" fill="#999" stroke="#333" stroke-width="0.8"/>
<circle cx="562.9" cy="110.3" r="4.9" fill="#999" stroke="#333" stroke-width="0.8"/>
<circle cx="591.7" cy="106.9" r="4.9" fill="#999" stroke="#333" stroke-width="0.8"/>
<circle cx="589.2" cy="124.1" r="4.9" fill="#999" stroke="#333" stroke-width="0.8"/>
<circle cx="594.2" cy="133.0" r="4.9" fill="#999" stroke="#333" stroke-width="0.8"/>
<circle cx="606.6" cy="116.6" r="4.9" fill="#999" stroke="#333" stroke-width="0.8"/>
<circle cx="617.6" cy="131.0" r="4.9" fill="#999" stroke="#333" stroke-width="0.8"/>
<circle cx="640.8" cy="83.4" r="4.9" fill="#999" stroke="#333" stroke-width="0.8"/>
<circle cx="639.2" cy="90.7" r="4.9" fill="#999" stroke="#333" stroke-width="0.8"/>
<circle cx="639.8" cy="93.0" r="4.9" fill="#999" stroke="#333" stroke-width="0.8"/>
<circle cx="645.8" cy="97.6" r="4.9" fill="#999" stroke="#333" stroke-width="0.8"/>
<circle cx="641.5" cy="101.5" r="4.9" fill="#999" stroke="#333" stroke-width="0.8"/>
<circle cx="658.0" cy="114.0" r="4.9" fill="#999" stroke="#333" stroke-width="0.8"/>
<circle cx="578.6" cy="85.9" r="4.9" fill="#999" stroke="#333" stroke-width="0.8"/>
<circle cx="583.4" cy="88.0" r="4.9" fill="#999" stroke="#333" stroke-width="0.8"/>
<circle cx="570.4" cy="56.4" r="4.9" fill="#999" stroke="#333" stroke-width="0.8"/>
<text x="537.7" y="27.1" font-size="4.6" text-anchor="middle" fill="#333">40</text>
<text x="514.7" y="41.4" font-size="4.6" text-anchor="middle" fill="#333">56</text>
<text x="518.5" y="48.1" font-size="4.6" text-anchor="middle" fill="#333">82</text>
<text x="534.6" y="48.9" font-size="4.6" text-anchor="middle" fill="#333">63</text>
<text x="500.3" y="56.3" font-size="4.6" text-anchor="middle" fill="#333">72</text>
<text x="510.6" y="55.8" font-size="4.6" text-anchor="middle" fill="#333">99</text>
<text x="535.6" y="55.9" font-size="4.6" text-anchor="middle" fill="#333">46</text>
<text x="550.0" y="32.0" font-size="4.6" text-anchor="middle" fill="#333">4</text>
<text x="564.8" y="32.7" font-size="4.6" text-anchor="middle" fill="#333">8</text>
<text x="571.3" y="43.1" font-size="4.6" text-anchor="middle" fill="#333">93</text>
<text x="552.6" y="47.8" font-size="4.6" text-anchor="middle" fill="#333">68</text>
<text x="558.8" y="47.1" font-size="4.6" text-anchor="middle" fill="#333">92</text>
<text x="573.8" y="51.3" font-size="4.6" text-anchor="middle" fill="#333">61</text>
<text x="581.1" y="49.0" font-size="4.6" text-anchor="middle" fill="#333">100</text>
<text x="586.9" y="47.1" font-size="4.6" text-anchor="middle" fill="#333">6</text>
<text x="590.7" y="48.5" font-size="4.6" text-anchor="middle" fill="#333">23</text>
<text x="598.4" y="47.7" font-size="4.6" text-anchor="middle" fill="#333">28</text>
<text x="608.4" y="45.8" font-size="4.6" text-anchor="middle" fill="#333">27</text>
<text x="615.7" y="44.6" font-size="4.6" text-anchor="middle" fill="#333">70</text>
<text x="621.0" y="47.1" font-size="4.6" text-anchor="middle" fill="#333">12</text>
<text x="628.7" y="48.1" font-size="4.6" text-anchor="middle" fill="#333">103</text>
<text x="632.6" y="56.7" font-size="4.6" text-anchor="middle" fill="#333">24</text>
<text x="632.0" y="63.4" font-size="4.6" text-anchor="middle" fill="#333">107</text>
<text x="638.7" y="61.9" font-size="4.6" text-anchor="middle" fill="#333">43</text>
<text x="601.3" y="57.7" font-size="4.6" text-anchor="middle" fill="#333">20</text>
<text x="599.9" y="63.4" font-size="4.6" text-anchor="middle" fill="#333">39</text>
<text x="623.7" y="67.8" font-size="4.6" text-anchor="middle" fill="#333">19</text>
<text x="587.3" y="67.6" font-size="4.6" text-anchor="middle" fill="#333">85</text>
<text x="592.6" y="66.3" font-size="4.6" text-anchor="middle" fill="#333">53</text>
<text x="593.7" y="72.6" font-size="4.6" text-anchor="middle" fill="#333">115</text>
<text x="603.8" y="72.1" font-size="4.6" text-anchor="middle" fill="#333">104</text>
<text x="621.6" y="75.6" font-size="4.6" text-anchor="middle" fill="#333">09</text>
<text x="568.8" y="70.9" font-size="4.6" text-anchor="middle" fill="#333">109</text>
<text x="648.0" y="78.7" font-size="4.6" text-anchor="middle" fill="#333">34</text>
<text x="565.7" y="79.7" font-size="4.6" text-anchor="middle" fill="#333">75</text>
<text x="584.8" y="81.3" font-size="4.6" text-anchor="middle" fill="#333">38</text>
<text x="591.0" y="80.2" font-size="4.6" text-anchor="middle" fill="#333">95</text>
<text x="606.6" y="81.6" font-size="4.6" text-anchor="middle" fill="#333">76</text>
<text x="619.1" y="82.7" font-size="4.6" text-anchor="middle" fill="#333">1</text>
<text x="590.5" y="87.1" font-size="4.6" text-anchor="middle" fill="#333">62</text>
<text x="631.3" y="86.6" font-size="4.6" text-anchor="middle" fill="#333">101</text>
<text x="648.7" y="88.3" font-size="4.6" text-anchor="middle" fill="#333">38</text>
<text x="631.3" y="93.2" font-size="4.6" text-anchor="middle" fill="#333">10</text>
<text x="658.2" y="92.6" font-size="4.6" text-anchor="middle" fill="#333">46</text>
<text x="632.3" y="101.9" font-size="4.6" text-anchor="middle" fill="#333">110</text>
<text x="633.8" y="110.0" font-size="4.6" text-anchor="middle" fill="#333">112</text>
<text x="653.6" y="106.6" font-size="4.6" text-anchor="middle" fill="#333">114</text>
<text x="647.8" y="112.4" font-size="4.6" text-anchor="middle" fill="#333">42</text>
<text x="665.1" y="108.6" font-size="4.6" text-anchor="middle" fill="#333">11</text>
<text x="665.7" y="122.6" font-size="4.6" text-anchor="middle" fill="#333">102</text>
<text x="624.9" y="125.8" font-size="4.6" text-anchor="middle" fill="#333">81</text>
<text x="599.0" y="101.9" font-size="4.6" text-anchor="middle" fill="#333">94</text>
<text x="613.7" y="111.9" font-size="4.6" text-anchor="middle" fill="#333">73</text>
<text x="599.3" y="114.2" font-size="4.6" text-anchor="middle" fill="#333">58</text>
<text x="594.5" y="118.6" font-size="4.6" text-anchor="middle" fill="#333">77</text>
<text x="600.9" y="127.3" font-size="4.6" text-anchor="middle" fill="#333">37</text>
<text x="576.9" y="113.8" font-size="4.6" text-anchor="middle" fill="#333">86</text>
<text x="566.1" y="123.1" font-size="4.6" text-anchor="middle" fill="#333">57</text>
<text x="571.6" y="129.1" font-size="4.6" text-anchor="middle" fill="#333">90</text>
<text x="573.0" y="108.0" font-size="4.6" text-anchor="middle" fill="#333">47</text>
<text x="578.2" y="105.2" font-size="4.6" text-anchor="middle" fill="#333">78</text>
<text x="570.0" y="114.2" font-size="4.6" text-anchor="middle" fill="#333">67</text>
<text x="559.5" y="120.9" font-size="4.6" text-anchor="middle" fill="#333">89</text>
<text x="544.7" y="124.8" font-size="4.6" text-anchor="middle" fill="#333">80</text>
<text x="529.7" y="128.0" font-size="4.6" text-anchor="middle" fill="#333">33</text>
<text x="519.2" y="125.1" font-size="4.6" text-anchor="middle" fill="#333">79</text>
<text x="532.6" y="122.3" font-size="4.6" text-anchor="middle" fill="#333">38</text>
<text x="536.5" y="117.5" font-size="4.6" text-anchor="middle" fill="#333">7</text>
<text x="541.3" y="116.1" font-size="4.6" text-anchor="middle" fill="#333">71</text>
<text x="534.0" y="112.3" font-size="4.6" text-anchor="middle" fill="#333">2</text>
<text x="515.3" y="114.2" font-size="4.6" text-anchor="middle" fill="#333">16</text>
<text x="515.3" y="108.4" font-size="4.6" text-anchor="middle" fill="#333">55</text>
<text x="510.5" y="105.0" font-size="4.6" text-anchor="middle" fill="#333">18</text>
<text x="504.8" y="107.9" font-size="4.6" text-anchor="middle" fill="#333">65</text>
<text x="516.3" y="102.7" font-size="4.6" text-anchor="middle" fill="#333">15</text>
<text x="521.7" y="99.6" font-size="4.6" text-anchor="middle" fill="#333">64</text>
<text x="500.0" y="96.9" font-size="4.6" text-anchor="middle" fill="#333">13</text>
<text x="505.2" y="99.2" font-size="4.6" text-anchor="middle" fill="#333">67</text>
<text x="494.2" y="92.1" font-size="4.6" text-anchor="middle" fill="#333">17</text>
<text x="493.3" y="74.7" font-size="4.6" text-anchor="middle" fill="#333">51</text>
<text x="492.3" y="68.1" font-size="4.6" text-anchor="middle" fill="#333">83</text>
<text x="507.7" y="70.1" font-size="4.6" text-anchor="middle" fill="#333">28</text>
<text x="512.5" y="70.1" font-size="4.6" text-anchor="middle" fill="#333">36</text>
<text x="531.7" y="70.8" font-size="4.6" text-anchor="middle" fill="#333">90</text>
<text x="543.0" y="64.2" font-size="4.6" text-anchor="middle" fill="#333">44</text>
<text x="549.9" y="65.2" font-size="4.6" text-anchor="middle" fill="#333">68</text>
<text x="536.6" y="66.5" font-size="4.6" text-anchor="middle" fill="#333">29</text>
<text x="558.1" y="62.8" font-size="4.6" text-anchor="middle" fill="#333">66</text>
<text x="547.8" y="81.3" font-size="4.6" text-anchor="middle" fill="#333">9774</text>
<text x="550.5" y="86.1" font-size="4.6" text-anchor="middle" fill="#333">41</text>
<text x="557.5" y="86.1" font-size="4.6" text-anchor="middle" fill="#333">69</text>
<text x="562.6" y="84.8" font-size="4.6" text-anchor="middle" fill="#333">84</text>
<text x="567.0" y="85.6" font-size="4.6" text-anchor="middle" fill="#333">45</text>
<text x="571.0" y="85.1" font-size="4.6" text-anchor="middle" fill="#333">59</text>
<text x="550.0" y="91.6" font-size="4.6" text-anchor="middle" fill="#333">122886</text>
<text x="538.2" y="175.6" font-size="6.3" textLength="86.8" lengthAdjust="spacingAndGlyphs" fill="#000" stroke="#000" stroke-width="0.08">Regression Standardized Residual</text>
<text transform="translate(461,88.6) rotate(-90)" x="-53.2" y="0" font-size="6.3" textLength="106.5" lengthAdjust="spacingAndGlyphs" fill="#000" stroke="#000" stroke-width="0.08">Regression Standardized Predicted Value</text>
<text x="447.2" y="158.2" font-size="10.6" font-weight="bold" fill="#000" textLength="6.2" lengthAdjust="spacingAndGlyphs">C</text>
<path d="M472.9,191H705.5M472.9,345.2H705.5M472.9,191V345.2M705.5,191V345.2" stroke="#000" stroke-width="3" stroke-dasharray="1.6 1.3" fill="none"/>
<path d="M484.3,345.2v2" stroke="#000" stroke-width="0.6"/>
<text x="484.3" y="352.5" font-size="4.8" text-anchor="middle" fill="#444" >-3</text>
<path d="M519.3,345.2v2" stroke="#000" stroke-width="0.6"/>
<text x="519.3" y="352.5" font-size="4.8" text-anchor="middle" fill="#444" >-2</text>
<path d="M554.3,345.2v2" stroke="#000" stroke-width="0.6"/>
<text x="554.3" y="352.5" font-size="4.8" text-anchor="middle" fill="#444" >-1</text>
<path d="M589.3,345.2v2" stroke="#000" stroke-width="0.6"/>
<text x="589.3" y="352.5" font-size="4.8" text-anchor="middle" fill="#444" >0</text>
<path d="M624.3,345.2v2" stroke="#000" stroke-width="0.6"/>
<text x="624.3" y="352.5" font-size="4.8" text-anchor="middle" fill="#444" >1</text>
<path d="M659.3,345.2v2" stroke="#000" stroke-width="0.6"/>
<text x="659.3" y="352.5" font-size="4.8" text-anchor="middle" fill="#444" >2</text>
<path d="M694.3,345.2v2" stroke="#000" stroke-width="0.6"/>
<text x="694.3" y="352.5" font-size="4.8" text-anchor="middle" fill="#444" >3</text>
<path d="M472.9,338.0h-2" stroke="#000" stroke-width="0.6"/>
<text transform="translate(470.1,338.0) rotate(-90)" x="0" y="0" font-size="4.4" text-anchor="middle" fill="#555">-2</text>
<path d="M472.9,310.2h-2" stroke="#000" stroke-width="0.6"/>
<text transform="translate(470.1,310.2) rotate(-90)" x="0" y="0" font-size="4.4" text-anchor="middle" fill="#555">-1</text>
<path d="M472.9,282.4h-2" stroke="#000" stroke-width="0.6"/>
<text transform="translate(470.1,282.4) rotate(-90)" x="0" y="0" font-size="4.4" text-anchor="middle" fill="#555">0</text>
<path d="M472.9,254.6h-2" stroke="#000" stroke-width="0.6"/>
<text transform="translate(470.1,254.6) rotate(-90)" x="0" y="0" font-size="4.4" text-anchor="middle" fill="#555">1</text>
<path d="M472.9,226.8h-2" stroke="#000" stroke-width="0.6"/>
<text transform="translate(470.1,226.8) rotate(-90)" x="0" y="0" font-size="4.4" text-anchor="middle" fill="#555">2</text>
<path d="M472.9,199.0h-2" stroke="#000" stroke-width="0.6"/>
<text transform="translate(470.1,199.0) rotate(-90)" x="0" y="0" font-size="4.4" text-anchor="middle" fill="#555">3</text>
<circle cx="570.6" cy="213.8" r="4.9" fill="#999" stroke="#333" stroke-width="0.8"/>
<circle cx="559.5" cy="229.5" r="4.9" fill="#999" stroke="#333" stroke-width="0.8"/>
<circle cx="564.0" cy="238.8" r="4.9" fill="#999" stroke="#333" stroke-width="0.8"/>
<circle cx="573.5" cy="243.0" r="4.9" fill="#999" stroke="#333" stroke-width="0.8"/>
<circle cx="539.5" cy="235.7" r="4.9" fill="#999" stroke="#333" stroke-width="0.8"/>
<circle cx="514.0" cy="254.8" r="4.9" fill="#999" stroke="#333" stroke-width="0.8"/>
<circle cx="535.3" cy="260.4" r="4.9" fill="#999" stroke="#333" stroke-width="0.8"/>
<circle cx="511.1" cy="268.1" r="4.9" fill="#999" stroke="#333" stroke-width="0.8"/>
<circle cx="523.8" cy="268.1" r="4.9" fill="#999" stroke="#333" stroke-width="0.8"/>
<circle cx="529.5" cy="276.5" r="4.9" fill="#999" stroke="#333" stroke-width="0.8"/>
<circle cx="549.6" cy="270.6" r="4.9" fill="#999" stroke="#333" stroke-width="0.8"/>
<circle cx="544.3" cy="283.8" r="4.9" fill="#999" stroke="#333" stroke-width="0.8"/>
<circle cx="541.0" cy="288.5" r="4.9" fill="#999" stroke="#333" stroke-width="0.8"/>
<circle cx="552.1" cy="282.8" r="4.9" fill="#999" stroke="#333" stroke-width="0.8"/>
<circle cx="560.0" cy="283.6" r="4.9" fill="#999" stroke="#333" stroke-width="0.8"/>
<circle cx="564.6" cy="282.3" r="4.9" fill="#999" stroke="#333" stroke-width="0.8"/>
<circle cx="571.8" cy="276.5" r="4.9" fill="#999" stroke="#333" stroke-width="0.8"/>
<circle cx="571.2" cy="284.0" r="4.9" fill="#999" stroke="#333" stroke-width="0.8"/>
<circle cx="552.0" cy="296.0" r="4.9" fill="#999" stroke="#333" stroke-width="0.8"/>
<circle cx="564.1" cy="292.0" r="4.9" fill="#999" stroke="#333" stroke-width="0.8"/>
<circle cx="510.7" cy="303.9" r="4.9" fill="#999" stroke="#333" stroke-width="0.8"/>
<circle cx="535.7" cy="304.9" r="4.9" fill="#999" stroke="#333" stroke-width="0.8"/>
<circle cx="540.5" cy="307.2" r="4.9" fill="#999" stroke="#333" stroke-width="0.8"/>
<circle cx="551.5" cy="306.4" r="4.9" fill="#999" stroke="#333" stroke-width="0.8"/>
<circle cx="562.8" cy="302.6" r="4.9" fill="#999" stroke="#333" stroke-width="0.8"/>
<circle cx="570.4" cy="299.4" r="4.9" fill="#999" stroke="#333" stroke-width="0.8"/>
<circle cx="571.2" cy="311.3" r="4.9" fill="#999" stroke="#333" stroke-width="0.8"/>
<circle cx="577.3" cy="306.6" r="4.9" fill="#999" stroke="#333" stroke-width="0.8"/>
<circle cx="577.2" cy="319.6" r="4.9" fill="#999" stroke="#333" stroke-width="0.8"/>
<circle cx="578.5" cy="280.0" r="4.9" fill="#999" stroke="#333" stroke-width="0.8"/>
<circle cx="585.0" cy="274.8" r="4.9" fill="#999" stroke="#333" stroke-width="0.8"/>
<circle cx="583.6" cy="304.9" r="4.9" fill="#999" stroke="#333" stroke-width="0.8"/>
<circle cx="584.5" cy="322.7" r="4.9" fill="#999" stroke="#333" stroke-width="0.8"/>
<circle cx="590.7" cy="313.8" r="4.9" fill="#999" stroke="#333" stroke-width="0.8"/>
<circle cx="594.6" cy="289.5" r="4.9" fill="#999" stroke="#333" stroke-width="0.8"/>
<circle cx="603.2" cy="290.7" r="4.9" fill="#999" stroke="#333" stroke-width="0.8"/>
<circle cx="600.5" cy="297.8" r="4.9" fill="#999" stroke="#333" stroke-width="0.8"/>
<circle cx="605.8" cy="297.8" r="4.9" fill="#999" stroke="#333" stroke-width="0.8"/>
<circle cx="594.3" cy="303.1" r="4.9" fill="#999" stroke="#333" stroke-width="0.8"/>
<circle cx="596.0" cy="322.7" r="4.9" fill="#999" stroke="#333" stroke-width="0.8"/>
<circle cx="607.3" cy="312.9" r="4.9" fill="#999" stroke="#333" stroke-width="0.8"/>
<circle cx="612.1" cy="323.6" r="4.9" fill="#999" stroke="#333" stroke-width="0.8"/>
<circle cx="619.2" cy="319.1" r="4.9" fill="#999" stroke="#333" stroke-width="0.8"/>
<circle cx="618.3" cy="306.7" r="4.9" fill="#999" stroke="#333" stroke-width="0.8"/>
<circle cx="619.0" cy="287.8" r="4.9" fill="#999" stroke="#333" stroke-width="0.8"/>
<circle cx="618.7" cy="281.1" r="4.9" fill="#999" stroke="#333" stroke-width="0.8"/>
<circle cx="628.1" cy="280.9" r="4.9" fill="#999" stroke="#333" stroke-width="0.8"/>
<circle cx="632.8" cy="288.1" r="4.9" fill="#999" stroke="#333" stroke-width="0.8"/>
<circle cx="629.2" cy="295.8" r="4.9" fill="#999" stroke="#333" stroke-width="0.8"/>
<circle cx="629.9" cy="305.2" r="4.9" fill="#999" stroke="#333" stroke-width="0.8"/>
<circle cx="629.9" cy="312.0" r="4.9" fill="#999" stroke="#333" stroke-width="0.8"/>
<circle cx="639.6" cy="320.9" r="4.9" fill="#999" stroke="#333" stroke-width="0.8"/>
<circle cx="596.7" cy="282.3" r="4.9" fill="#999" stroke="#333" stroke-width="0.8"/>
<circle cx="599.9" cy="227.2" r="4.9" fill="#999" stroke="#333" stroke-width="0.8"/>
<circle cx="630.1" cy="225.3" r="4.9" fill="#999" stroke="#333" stroke-width="0.8"/>
<circle cx="629.1" cy="232.4" r="4.9" fill="#999" stroke="#333" stroke-width="0.8"/>
<circle cx="629.5" cy="237.2" r="4.9" fill="#999" stroke="#333" stroke-width="0.8"/>
<circle cx="630.6" cy="245.9" r="4.9" fill="#999" stroke="#333" stroke-width="0.8"/>
<circle cx="621.0" cy="249.0" r="4.9" fill="#999" stroke="#333" stroke-width="0.8"/>
<circle cx="601.4" cy="257.3" r="4.9" fill="#999" stroke="#333" stroke-width="0.8"/>
<circle cx="622.3" cy="263.2" r="4.9" fill="#999" stroke="#333" stroke-width="0.8"/>
<circle cx="625.9" cy="267.1" r="4.9" fill="#999" stroke="#333" stroke-width="0.8"/>
<circle cx="624.0" cy="271.9" r="4.9" fill="#999" stroke="#333" stroke-width="0.8"/>
<circle cx="629.8" cy="273.8" r="4.9" fill="#999" stroke="#333" stroke-width="0.8"/>
<circle cx="604.8" cy="274.6" r="4.9" fill="#999" stroke="#333" stroke-width="0.8"/>
<circle cx="602.3" cy="277.8" r="4.9" fill="#999" stroke="#333" stroke-width="0.8"/>
<circle cx="603.8" cy="291.1" r="4.9" fill="#999" stroke="#333" stroke-width="0.8"/>
<circle cx="655.7" cy="294.9" r="4.9" fill="#999" stroke="#333" stroke-width="0.8"/>
<circle cx="656.6" cy="296.4" r="4.9" fill="#999" stroke="#333" stroke-width="0.8"/>
<circle cx="663.0" cy="308.7" r="4.9" fill="#999" stroke="#333" stroke-width="0.8"/>
<text x="577.8" y="208.8" font-size="4.6" text-anchor="middle" fill="#333">38</text>
<text x="550.6" y="221.2" font-size="4.6" text-anchor="middle" fill="#333">112</text>
<text x="565.6" y="224.4" font-size="4.6" text-anchor="middle" fill="#333">42</text>
<text x="578.0" y="222.5" font-size="4.6" text-anchor="middle" fill="#333">110</text>
<text x="546.8" y="230.2" font-size="4.6" text-anchor="middle" fill="#333">102</text>
<text x="571.4" y="233.1" font-size="4.6" text-anchor="middle" fill="#333">114</text>
<text x="546.2" y="244.4" font-size="4.6" text-anchor="middle" fill="#333">11</text>
<text x="557.7" y="247.4" font-size="4.6" text-anchor="middle" fill="#333">48</text>
<text x="520.9" y="248.8" font-size="4.6" text-anchor="middle" fill="#333">81</text>
<text x="541.8" y="255.7" font-size="4.6" text-anchor="middle" fill="#333">73</text>
<text x="504.6" y="263.4" font-size="4.6" text-anchor="middle" fill="#333">97</text>
<text x="556.5" y="265.9" font-size="4.6" text-anchor="middle" fill="#333">94</text>
<text x="536.8" y="271.6" font-size="4.6" text-anchor="middle" fill="#333">58</text>
<text x="517.4" y="277.3" font-size="4.6" text-anchor="middle" fill="#333">77</text>
<text x="542.4" y="277.6" font-size="4.6" text-anchor="middle" fill="#333">96</text>
<text x="559.7" y="272.6" font-size="4.6" text-anchor="middle" fill="#333">86</text>
<text x="565.0" y="270.4" font-size="4.6" text-anchor="middle" fill="#333">78</text>
<text x="572.0" y="270.1" font-size="4.6" text-anchor="middle" fill="#333">62</text>
<text x="537.3" y="281.1" font-size="4.6" text-anchor="middle" fill="#333">69</text>
<text x="558.7" y="278.1" font-size="4.6" text-anchor="middle" fill="#333">67</text>
<text x="523.2" y="285.4" font-size="4.6" text-anchor="middle" fill="#333">98</text>
<text x="517.4" y="299.2" font-size="4.6" text-anchor="middle" fill="#333">35</text>
<text x="528.9" y="300.4" font-size="4.6" text-anchor="middle" fill="#333">79</text>
<text x="534.7" y="297.1" font-size="4.6" text-anchor="middle" fill="#333">80</text>
<text x="539.9" y="297.9" font-size="4.6" text-anchor="middle" fill="#333">71</text>
<text x="541.4" y="301.1" font-size="4.6" text-anchor="middle" fill="#333">16</text>
<text x="546.2" y="301.7" font-size="4.6" text-anchor="middle" fill="#333">5</text>
<text x="551.5" y="315.9" font-size="4.6" text-anchor="middle" fill="#333">65</text>
<text x="556.8" y="313.9" font-size="4.6" text-anchor="middle" fill="#333">2</text>
<text x="562.6" y="315.8" font-size="4.6" text-anchor="middle" fill="#333">55</text>
<text x="557.7" y="319.6" font-size="4.6" text-anchor="middle" fill="#333">7</text>
<text x="545.0" y="320.2" font-size="4.6" text-anchor="middle" fill="#333">38</text>
<text x="564.0" y="324.0" font-size="4.6" text-anchor="middle" fill="#333">87</text>
<text x="565.8" y="329.6" font-size="4.6" text-anchor="middle" fill="#333">15</text>
<text x="571.1" y="328.2" font-size="4.6" text-anchor="middle" fill="#333">13</text>
<text x="578.8" y="331.4" font-size="4.6" text-anchor="middle" fill="#333">17</text>
<text x="590.2" y="330.0" font-size="4.6" text-anchor="middle" fill="#333">14</text>
<text x="590.2" y="335.9" font-size="4.6" text-anchor="middle" fill="#333">30</text>
<text x="604.4" y="328.8" font-size="4.6" text-anchor="middle" fill="#333">51</text>
<text x="604.1" y="334.6" font-size="4.6" text-anchor="middle" fill="#333">26</text>
<text x="618.3" y="332.3" font-size="4.6" text-anchor="middle" fill="#333">98</text>
<text x="625.4" y="327.5" font-size="4.6" text-anchor="middle" fill="#333">72</text>
<text x="637.0" y="314.5" font-size="4.6" text-anchor="middle" fill="#333">83</text>
<text x="600.5" y="309.7" font-size="4.6" text-anchor="middle" fill="#333">29</text>
<text x="606.7" y="307.4" font-size="4.6" text-anchor="middle" fill="#333">74</text>
<text x="610.3" y="284.8" font-size="4.6" text-anchor="middle" fill="#333">115</text>
<text x="609.8" y="289.6" font-size="4.6" text-anchor="middle" fill="#333">60</text>
<text x="612.1" y="294.9" font-size="4.6" text-anchor="middle" fill="#333">46</text>
<text x="618.0" y="298.0" font-size="4.6" text-anchor="middle" fill="#333">5766</text>
<text x="613.0" y="302.2" font-size="4.6" text-anchor="middle" fill="#333">46</text>
<text x="580.0" y="288.9" font-size="4.6" text-anchor="middle" fill="#333">5</text>
<text x="584.0" y="288.9" font-size="4.6" text-anchor="middle" fill="#333">28</text>
<text x="571.0" y="293.2" font-size="4.6" text-anchor="middle" fill="#333">5337</text>
<text x="582.4" y="294.2" font-size="4.6" text-anchor="middle" fill="#333">45</text>
<text x="586.0" y="293.6" font-size="4.6" text-anchor="middle" fill="#333">58</text>
<text x="589.8" y="298.5" font-size="4.6" text-anchor="middle" fill="#333">41</text>
<text x="584.0" y="298.1" font-size="4.6" text-anchor="middle" fill="#333">94</text>
<text x="606.1" y="223.1" font-size="4.6" text-anchor="middle" fill="#333">1</text>
<text x="606.4" y="235.9" font-size="4.6" text-anchor="middle" fill="#333">99</text>
<text x="607.6" y="243.9" font-size="4.6" text-anchor="middle" fill="#333">113</text>
<text x="608.2" y="252.5" font-size="4.6" text-anchor="middle" fill="#333">76</text>
<text x="614.6" y="259.4" font-size="4.6" text-anchor="middle" fill="#333">104</text>
<text x="615.3" y="233.1" font-size="4.6" text-anchor="middle" fill="#333">107</text>
<text x="621.0" y="239.2" font-size="4.6" text-anchor="middle" fill="#333">108</text>
<text x="622.4" y="227.7" font-size="4.6" text-anchor="middle" fill="#333">24</text>
<text x="637.7" y="220.0" font-size="4.6" text-anchor="middle" fill="#333">70</text>
<text x="642.1" y="232.1" font-size="4.6" text-anchor="middle" fill="#333">27</text>
<text x="637.7" y="240.7" font-size="4.6" text-anchor="middle" fill="#333">12</text>
<text x="613.3" y="249.6" font-size="4.6" text-anchor="middle" fill="#333">43</text>
<text x="629.3" y="257.1" font-size="4.6" text-anchor="middle" fill="#333">19</text>
<text x="637.8" y="254.4" font-size="4.6" text-anchor="middle" fill="#333">103</text>
<text x="636.2" y="261.2" font-size="4.6" text-anchor="middle" fill="#333">20</text>
<text x="634.5" y="266.8" font-size="4.6" text-anchor="middle" fill="#333">85</text>
<text x="639.9" y="268.1" font-size="4.6" text-anchor="middle" fill="#333">39</text>
<text x="604.8" y="268.2" font-size="4.6" text-anchor="middle" fill="#333">33</text>
<text x="612.0" y="269.0" font-size="4.6" text-anchor="middle" fill="#333">109</text>
<text x="612.0" y="275.8" font-size="4.6" text-anchor="middle" fill="#333">49</text>
<text x="643.2" y="276.9" font-size="4.6" text-anchor="middle" fill="#333">23</text>
<text x="650.3" y="274.4" font-size="4.6" text-anchor="middle" fill="#333">53</text>
<text x="637.4" y="281.1" font-size="4.6" text-anchor="middle" fill="#333">100</text>
<text x="640.7" y="286.9" font-size="4.6" text-anchor="middle" fill="#333">93</text>
<text x="640.3" y="292.7" font-size="4.6" text-anchor="middle" fill="#333">92</text>
<text x="650.3" y="289.8" font-size="4.6" text-anchor="middle" fill="#333">6</text>
<text x="662.4" y="291.7" font-size="4.6" text-anchor="middle" fill="#333">4</text>
<text x="622.1" y="303.8" font-size="4.6" text-anchor="middle" fill="#333">40</text>
<text x="641.8" y="307.1" font-size="4.6" text-anchor="middle" fill="#333">82</text>
<text x="670.1" y="303.8" font-size="4.6" text-anchor="middle" fill="#333">40</text>
<text x="636.5" y="314.2" font-size="4.6" text-anchor="middle" fill="#333">63</text>
<text x="648.0" y="315.7" font-size="4.6" text-anchor="middle" fill="#333">56</text>
<text x="580.5" y="236.9" font-size="4.6" text-anchor="middle" fill="#333">101</text>
<text x="579.8" y="251.2" font-size="4.6" text-anchor="middle" fill="#333">18</text>
<text x="591.6" y="269.8" font-size="4.6" text-anchor="middle" fill="#333">94</text>
<text x="597.0" y="270.8" font-size="4.6" text-anchor="middle" fill="#333">84</text>
<text x="537.4" y="296.6" font-size="4.6" text-anchor="middle" fill="#333">8071</text>
<text x="527.9" y="362.3" font-size="6.3" textLength="106.2" lengthAdjust="spacingAndGlyphs" fill="#000" stroke="#000" stroke-width="0.08">Regression Standardized Predicted Value</text>
<text transform="translate(461,275) rotate(-90)" x="-44.0" y="0" font-size="6.3" textLength="88" lengthAdjust="spacingAndGlyphs" fill="#000" stroke="#000" stroke-width="0.08">Regression Standardized Residual</text>
<text x="451" y="344.6" font-size="10.6" font-weight="bold" fill="#000" textLength="5.1" lengthAdjust="spacingAndGlyphs">F</text>
</svg></body></html>
